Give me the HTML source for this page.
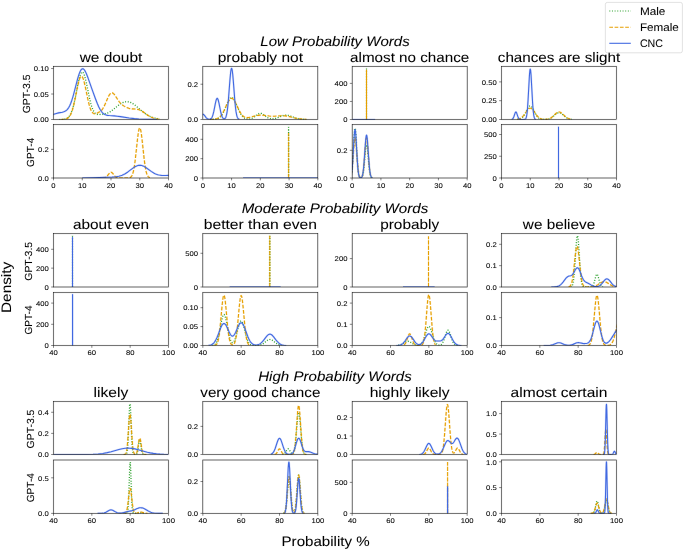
<!DOCTYPE html>
<html><head><meta charset="utf-8"><title>Probability Words</title><style>html,body{margin:0;padding:0;background:#fff;}svg{display:block;will-change:transform;}text{font-family:"Liberation Sans",sans-serif;text-rendering:geometricPrecision;stroke:#000;stroke-opacity:0.12;stroke-width:0.50px;stroke-linejoin:round;paint-order:stroke;}</style></head><body>
<svg width="685" height="550" viewBox="0 0 685 550" font-family="Liberation Sans, sans-serif">
<rect x="0" y="0" width="685" height="550" fill="#fff"/>
<defs><clipPath id="c000"><rect x="53.50" y="66.40" width="115.00" height="53.10"/></clipPath><clipPath id="c001"><rect x="53.50" y="124.60" width="115.00" height="53.40"/></clipPath><clipPath id="c010"><rect x="202.83" y="66.40" width="115.00" height="53.10"/></clipPath><clipPath id="c011"><rect x="202.83" y="124.60" width="115.00" height="53.40"/></clipPath><clipPath id="c020"><rect x="352.17" y="66.40" width="115.00" height="53.10"/></clipPath><clipPath id="c021"><rect x="352.17" y="124.60" width="115.00" height="53.40"/></clipPath><clipPath id="c030"><rect x="501.50" y="66.40" width="115.00" height="53.10"/></clipPath><clipPath id="c031"><rect x="501.50" y="124.60" width="115.00" height="53.40"/></clipPath><clipPath id="c100"><rect x="53.50" y="233.60" width="115.00" height="53.40"/></clipPath><clipPath id="c101"><rect x="53.50" y="292.50" width="115.00" height="53.00"/></clipPath><clipPath id="c110"><rect x="202.83" y="233.60" width="115.00" height="53.40"/></clipPath><clipPath id="c111"><rect x="202.83" y="292.50" width="115.00" height="53.00"/></clipPath><clipPath id="c120"><rect x="352.17" y="233.60" width="115.00" height="53.40"/></clipPath><clipPath id="c121"><rect x="352.17" y="292.50" width="115.00" height="53.00"/></clipPath><clipPath id="c130"><rect x="501.50" y="233.60" width="115.00" height="53.40"/></clipPath><clipPath id="c131"><rect x="501.50" y="292.50" width="115.00" height="53.00"/></clipPath><clipPath id="c200"><rect x="53.50" y="401.50" width="115.00" height="53.00"/></clipPath><clipPath id="c201"><rect x="53.50" y="460.00" width="115.00" height="53.40"/></clipPath><clipPath id="c210"><rect x="202.83" y="401.50" width="115.00" height="53.00"/></clipPath><clipPath id="c211"><rect x="202.83" y="460.00" width="115.00" height="53.40"/></clipPath><clipPath id="c220"><rect x="352.17" y="401.50" width="115.00" height="53.00"/></clipPath><clipPath id="c221"><rect x="352.17" y="460.00" width="115.00" height="53.40"/></clipPath><clipPath id="c230"><rect x="501.50" y="401.50" width="115.00" height="53.00"/></clipPath><clipPath id="c231"><rect x="501.50" y="460.00" width="115.00" height="53.40"/></clipPath></defs>
<g clip-path="url(#c000)" fill="none" stroke-width="1.10" stroke-linejoin="round">
<path d="M59.25,119.49 L62.10,119.43 L63.95,119.27 L65.38,118.99 L66.64,118.52 L67.81,117.78 L68.82,116.81 L69.74,115.57 L70.66,113.90 L71.50,111.95 L72.26,109.82 L73.01,107.30 L73.85,104.06 L75.28,97.62 L78.22,82.90 L78.89,79.89 L79.56,77.24 L80.23,75.06 L80.90,73.42 L81.24,72.83 L81.57,72.41 L81.91,72.14 L82.25,72.05 L82.58,72.12 L82.92,72.36 L83.25,72.77 L83.59,73.33 L84.26,74.92 L85.01,77.35 L86.36,82.95 L89.71,99.05 L90.72,103.16 L91.73,106.61 L92.74,109.33 L93.74,111.35 L94.25,112.13 L94.83,112.86 L95.42,113.41 L96.01,113.82 L96.76,114.18 L97.60,114.40 L98.61,114.49 L99.79,114.46 L102.30,114.21 L104.49,113.89 L106.08,113.53 L107.51,113.07 L109.44,112.17 L111.45,110.91 L113.46,109.38 L118.50,105.26 L120.01,104.16 L121.44,103.27 L123.03,102.48 L124.54,101.96 L126.05,101.70 L127.48,101.69 L128.91,101.92 L130.33,102.37 L131.76,103.04 L133.35,103.99 L134.70,104.95 L136.21,106.14 L141.50,110.69 L143.85,112.60 L146.28,114.34 L148.63,115.74 L151.15,116.93 L153.83,117.86 L156.69,118.54 L159.88,119.00" stroke="#2ca02c" stroke-opacity="0.18" stroke-width="2.10" stroke-dasharray="1,1.65"/>
<path d="M59.25,119.49 L62.10,119.43 L63.95,119.27 L65.38,118.99 L66.64,118.52 L67.81,117.78 L68.82,116.81 L69.74,115.57 L70.66,113.90 L71.50,111.95 L72.26,109.82 L73.01,107.30 L73.85,104.06 L75.28,97.62 L78.22,82.90 L78.89,79.89 L79.56,77.24 L80.23,75.06 L80.90,73.42 L81.24,72.83 L81.57,72.41 L81.91,72.14 L82.25,72.05 L82.58,72.12 L82.92,72.36 L83.25,72.77 L83.59,73.33 L84.26,74.92 L85.01,77.35 L86.36,82.95 L89.71,99.05 L90.72,103.16 L91.73,106.61 L92.74,109.33 L93.74,111.35 L94.25,112.13 L94.83,112.86 L95.42,113.41 L96.01,113.82 L96.76,114.18 L97.60,114.40 L98.61,114.49 L99.79,114.46 L102.30,114.21 L104.49,113.89 L106.08,113.53 L107.51,113.07 L109.44,112.17 L111.45,110.91 L113.46,109.38 L118.50,105.26 L120.01,104.16 L121.44,103.27 L123.03,102.48 L124.54,101.96 L126.05,101.70 L127.48,101.69 L128.91,101.92 L130.33,102.37 L131.76,103.04 L133.35,103.99 L134.70,104.95 L136.21,106.14 L141.50,110.69 L143.85,112.60 L146.28,114.34 L148.63,115.74 L151.15,116.93 L153.83,117.86 L156.69,118.54 L159.88,119.00" stroke="#2ca02c" stroke-dasharray="1,1.65"/>
<path d="M60.69,119.49 L63.09,119.42 L64.74,119.25 L66.06,118.96 L67.14,118.52 L68.22,117.80 L69.13,116.88 L69.95,115.73 L70.78,114.20 L71.52,112.46 L72.27,110.33 L72.93,108.10 L73.68,105.23 L75.00,99.28 L77.65,86.15 L78.89,80.96 L79.55,78.83 L80.13,77.45 L80.46,76.87 L80.79,76.47 L81.12,76.24 L81.37,76.18 L81.62,76.22 L81.95,76.43 L82.28,76.81 L82.61,77.36 L83.27,78.93 L83.93,81.08 L85.17,86.26 L88.23,100.93 L89.14,104.63 L89.97,107.46 L90.80,109.72 L91.63,111.42 L92.04,112.07 L92.54,112.69 L92.95,113.08 L93.45,113.41 L94.19,113.68 L94.94,113.73 L95.85,113.58 L96.92,113.21 L98.41,112.53 L99.65,111.83 L100.73,111.03 L101.64,110.14 L102.30,109.34 L102.88,108.51 L104.12,106.33 L105.28,103.85 L107.92,97.66 L108.59,96.29 L109.25,95.10 L109.99,94.03 L110.65,93.36 L111.32,92.96 L111.65,92.87 L112.06,92.86 L112.56,92.98 L113.14,93.31 L113.71,93.80 L114.29,94.44 L115.37,95.92 L118.43,100.66 L119.42,101.99 L120.42,103.14 L121.41,104.11 L122.48,105.00 L123.72,105.86 L125.05,106.65 L126.37,107.33 L127.61,107.87 L128.85,108.32 L130.01,108.62 L132.00,108.92 L135.31,109.07 L136.63,109.18 L137.95,109.43 L139.19,109.80 L140.60,110.40 L142.09,111.24 L143.58,112.22 L148.29,115.59 L149.87,116.55 L151.44,117.36 L153.26,118.09 L155.24,118.66 L157.39,119.05 L159.88,119.30" stroke="#e69f00" stroke-opacity="0.18" stroke-width="2.10" stroke-dasharray="3.7,1.6"/>
<path d="M60.69,119.49 L63.09,119.42 L64.74,119.25 L66.06,118.96 L67.14,118.52 L68.22,117.80 L69.13,116.88 L69.95,115.73 L70.78,114.20 L71.52,112.46 L72.27,110.33 L72.93,108.10 L73.68,105.23 L75.00,99.28 L77.65,86.15 L78.89,80.96 L79.55,78.83 L80.13,77.45 L80.46,76.87 L80.79,76.47 L81.12,76.24 L81.37,76.18 L81.62,76.22 L81.95,76.43 L82.28,76.81 L82.61,77.36 L83.27,78.93 L83.93,81.08 L85.17,86.26 L88.23,100.93 L89.14,104.63 L89.97,107.46 L90.80,109.72 L91.63,111.42 L92.04,112.07 L92.54,112.69 L92.95,113.08 L93.45,113.41 L94.19,113.68 L94.94,113.73 L95.85,113.58 L96.92,113.21 L98.41,112.53 L99.65,111.83 L100.73,111.03 L101.64,110.14 L102.30,109.34 L102.88,108.51 L104.12,106.33 L105.28,103.85 L107.92,97.66 L108.59,96.29 L109.25,95.10 L109.99,94.03 L110.65,93.36 L111.32,92.96 L111.65,92.87 L112.06,92.86 L112.56,92.98 L113.14,93.31 L113.71,93.80 L114.29,94.44 L115.37,95.92 L118.43,100.66 L119.42,101.99 L120.42,103.14 L121.41,104.11 L122.48,105.00 L123.72,105.86 L125.05,106.65 L126.37,107.33 L127.61,107.87 L128.85,108.32 L130.01,108.62 L132.00,108.92 L135.31,109.07 L136.63,109.18 L137.95,109.43 L139.19,109.80 L140.60,110.40 L142.09,111.24 L143.58,112.22 L148.29,115.59 L149.87,116.55 L151.44,117.36 L153.26,118.09 L155.24,118.66 L157.39,119.05 L159.88,119.30" stroke="#e69f00" stroke-dasharray="3.7,1.6"/>
<path d="M39.12,118.83 L42.27,118.26 L45.32,117.44 L48.07,116.48 L53.77,114.26 L56.33,113.42 L58.59,112.87 L62.42,112.18 L63.80,111.80 L64.88,111.36 L65.77,110.84 L66.65,110.14 L67.44,109.32 L68.62,107.70 L69.70,105.72 L70.78,103.23 L71.86,100.21 L72.75,97.37 L73.73,93.87 L77.66,78.67 L78.55,75.68 L79.33,73.38 L80.22,71.29 L81.01,69.94 L81.40,69.45 L81.79,69.09 L82.19,68.87 L82.68,68.77 L83.07,68.84 L83.56,69.10 L83.95,69.44 L84.45,70.01 L85.43,71.63 L86.41,73.74 L88.08,78.07 L92.51,90.64 L95.36,98.49 L97.23,103.31 L98.70,106.71 L99.98,109.22 L101.26,111.26 L102.54,112.81 L103.22,113.46 L103.91,113.98 L104.70,114.45 L105.58,114.84 L106.57,115.14 L107.65,115.35 L109.32,115.54 L114.23,115.87 L117.18,116.18 L120.43,116.63 L129.18,117.99 L134.39,118.64 L138.91,119.02 L143.73,119.27 L149.43,119.42 L157.00,119.48" stroke="#4169e1" stroke-opacity="0.18" stroke-width="2.10"/>
<path d="M39.12,118.83 L42.27,118.26 L45.32,117.44 L48.07,116.48 L53.77,114.26 L56.33,113.42 L58.59,112.87 L62.42,112.18 L63.80,111.80 L64.88,111.36 L65.77,110.84 L66.65,110.14 L67.44,109.32 L68.62,107.70 L69.70,105.72 L70.78,103.23 L71.86,100.21 L72.75,97.37 L73.73,93.87 L77.66,78.67 L78.55,75.68 L79.33,73.38 L80.22,71.29 L81.01,69.94 L81.40,69.45 L81.79,69.09 L82.19,68.87 L82.68,68.77 L83.07,68.84 L83.56,69.10 L83.95,69.44 L84.45,70.01 L85.43,71.63 L86.41,73.74 L88.08,78.07 L92.51,90.64 L95.36,98.49 L97.23,103.31 L98.70,106.71 L99.98,109.22 L101.26,111.26 L102.54,112.81 L103.22,113.46 L103.91,113.98 L104.70,114.45 L105.58,114.84 L106.57,115.14 L107.65,115.35 L109.32,115.54 L114.23,115.87 L117.18,116.18 L120.43,116.63 L129.18,117.99 L134.39,118.64 L138.91,119.02 L143.73,119.27 L149.43,119.42 L157.00,119.48" stroke="#4169e1"/>
</g>
<rect x="53.50" y="66.40" width="115.00" height="53.10" fill="none" stroke="#000" stroke-opacity="0.12" stroke-width="1.48"/>
<rect x="53.50" y="66.40" width="115.00" height="53.10" fill="none" stroke="#000" stroke-width="0.48"/>
<line x1="51.15" y1="119.50" x2="53.50" y2="119.50" stroke="#000" stroke-width="0.48"/>
<text x="48.80" y="122.20" font-size="6.85" text-anchor="end" textLength="14.96" lengthAdjust="spacingAndGlyphs" fill="#000">0.00</text>
<line x1="51.15" y1="94.02" x2="53.50" y2="94.02" stroke="#000" stroke-width="0.48"/>
<text x="48.80" y="96.72" font-size="6.85" text-anchor="end" textLength="14.96" lengthAdjust="spacingAndGlyphs" fill="#000">0.05</text>
<line x1="51.15" y1="68.54" x2="53.50" y2="68.54" stroke="#000" stroke-width="0.48"/>
<text x="48.80" y="71.24" font-size="6.85" text-anchor="end" textLength="14.96" lengthAdjust="spacingAndGlyphs" fill="#000">0.10</text>
<text x="111.00" y="61.50" font-size="13.71" text-anchor="middle" textLength="62.61" lengthAdjust="spacingAndGlyphs" fill="#000">we doubt</text>
<text x="29.80" y="93.95" font-size="10.28" text-anchor="middle" textLength="38.79" lengthAdjust="spacingAndGlyphs" fill="#000" transform="rotate(-90 29.80 93.95)">GPT-3.5</text>
<g clip-path="url(#c001)" fill="none" stroke-width="1.10" stroke-linejoin="round">
<path d="M102.38,177.98 L103.60,177.90 L104.51,177.75 L105.30,177.49 L106.01,177.10 L106.65,176.61 L107.28,175.96 L109.10,173.63 L109.70,172.95 L110.33,172.46 L110.95,172.27 L111.28,172.31 L111.59,172.42 L112.30,172.95 L112.92,173.66 L114.59,175.81 L115.59,176.81 L116.58,177.44 L117.71,177.80 L118.83,177.94 L120.50,177.99 L126.55,177.99 L128.53,177.91 L129.48,177.74 L130.23,177.46 L130.86,177.04 L131.45,176.39 L131.85,175.79 L132.21,175.09 L132.88,173.27 L133.51,170.84 L134.15,167.58 L134.74,163.72 L135.37,158.78 L137.39,140.08 L138.14,133.98 L138.58,131.23 L138.97,129.39 L139.37,128.26 L139.57,127.98 L139.76,127.89 L139.92,127.97 L140.12,128.23 L140.51,129.34 L140.91,131.16 L141.35,133.88 L142.10,139.96 L144.27,159.99 L145.03,165.53 L145.78,169.85 L146.17,171.63 L146.61,173.23 L147.04,174.49 L147.48,175.47 L147.95,176.27 L148.51,176.92 L149.10,177.37 L149.81,177.68" stroke="#e69f00" stroke-opacity="0.18" stroke-width="2.10" stroke-dasharray="3.7,1.6"/>
<path d="M102.38,177.98 L103.60,177.90 L104.51,177.75 L105.30,177.49 L106.01,177.10 L106.65,176.61 L107.28,175.96 L109.10,173.63 L109.70,172.95 L110.33,172.46 L110.95,172.27 L111.28,172.31 L111.59,172.42 L112.30,172.95 L112.92,173.66 L114.59,175.81 L115.59,176.81 L116.58,177.44 L117.71,177.80 L118.83,177.94 L120.50,177.99 L126.55,177.99 L128.53,177.91 L129.48,177.74 L130.23,177.46 L130.86,177.04 L131.45,176.39 L131.85,175.79 L132.21,175.09 L132.88,173.27 L133.51,170.84 L134.15,167.58 L134.74,163.72 L135.37,158.78 L137.39,140.08 L138.14,133.98 L138.58,131.23 L138.97,129.39 L139.37,128.26 L139.57,127.98 L139.76,127.89 L139.92,127.97 L140.12,128.23 L140.51,129.34 L140.91,131.16 L141.35,133.88 L142.10,139.96 L144.27,159.99 L145.03,165.53 L145.78,169.85 L146.17,171.63 L146.61,173.23 L147.04,174.49 L147.48,175.47 L147.95,176.27 L148.51,176.92 L149.10,177.37 L149.81,177.68" stroke="#e69f00" stroke-dasharray="3.7,1.6"/>
<path d="M82.25,177.96 L92.61,177.76 L112.08,176.97 L115.92,176.68 L118.89,176.20 L120.52,175.77 L122.15,175.21 L123.68,174.53 L125.22,173.70 L127.90,171.93 L133.28,167.87 L134.52,167.05 L135.58,166.44 L136.73,165.91 L137.78,165.56 L138.84,165.35 L139.80,165.29 L140.76,165.35 L141.81,165.55 L142.87,165.90 L143.92,166.37 L144.98,166.95 L146.13,167.69 L151.21,171.37 L153.71,172.96 L155.05,173.66 L156.39,174.24 L157.73,174.71 L159.17,175.07 L161.28,175.39 L163.68,175.53 L165.89,175.51 L173.08,175.26 L175.67,175.29 L178.16,175.40 L182.19,175.75 L191.97,176.94 L197.25,177.44" stroke="#4169e1" stroke-opacity="0.18" stroke-width="2.10"/>
<path d="M82.25,177.96 L92.61,177.76 L112.08,176.97 L115.92,176.68 L118.89,176.20 L120.52,175.77 L122.15,175.21 L123.68,174.53 L125.22,173.70 L127.90,171.93 L133.28,167.87 L134.52,167.05 L135.58,166.44 L136.73,165.91 L137.78,165.56 L138.84,165.35 L139.80,165.29 L140.76,165.35 L141.81,165.55 L142.87,165.90 L143.92,166.37 L144.98,166.95 L146.13,167.69 L151.21,171.37 L153.71,172.96 L155.05,173.66 L156.39,174.24 L157.73,174.71 L159.17,175.07 L161.28,175.39 L163.68,175.53 L165.89,175.51 L173.08,175.26 L175.67,175.29 L178.16,175.40 L182.19,175.75 L191.97,176.94 L197.25,177.44" stroke="#4169e1"/>
</g>
<rect x="53.50" y="124.60" width="115.00" height="53.40" fill="none" stroke="#000" stroke-opacity="0.12" stroke-width="1.48"/>
<rect x="53.50" y="124.60" width="115.00" height="53.40" fill="none" stroke="#000" stroke-width="0.48"/>
<line x1="51.15" y1="178.00" x2="53.50" y2="178.00" stroke="#000" stroke-width="0.48"/>
<text x="48.80" y="180.70" font-size="6.85" text-anchor="end" textLength="10.69" lengthAdjust="spacingAndGlyphs" fill="#000">0.0</text>
<line x1="51.15" y1="149.37" x2="53.50" y2="149.37" stroke="#000" stroke-width="0.48"/>
<text x="48.80" y="152.07" font-size="6.85" text-anchor="end" textLength="10.69" lengthAdjust="spacingAndGlyphs" fill="#000">0.2</text>
<line x1="53.50" y1="178.00" x2="53.50" y2="180.35" stroke="#000" stroke-width="0.48"/>
<text x="53.50" y="187.70" font-size="6.85" text-anchor="middle" textLength="4.28" lengthAdjust="spacingAndGlyphs" fill="#000">0</text>
<line x1="82.25" y1="178.00" x2="82.25" y2="180.35" stroke="#000" stroke-width="0.48"/>
<text x="82.25" y="187.70" font-size="6.85" text-anchor="middle" textLength="8.55" lengthAdjust="spacingAndGlyphs" fill="#000">10</text>
<line x1="111.00" y1="178.00" x2="111.00" y2="180.35" stroke="#000" stroke-width="0.48"/>
<text x="111.00" y="187.70" font-size="6.85" text-anchor="middle" textLength="8.55" lengthAdjust="spacingAndGlyphs" fill="#000">20</text>
<line x1="139.75" y1="178.00" x2="139.75" y2="180.35" stroke="#000" stroke-width="0.48"/>
<text x="139.75" y="187.70" font-size="6.85" text-anchor="middle" textLength="8.55" lengthAdjust="spacingAndGlyphs" fill="#000">30</text>
<line x1="168.50" y1="178.00" x2="168.50" y2="180.35" stroke="#000" stroke-width="0.48"/>
<text x="168.50" y="187.70" font-size="6.85" text-anchor="middle" textLength="8.55" lengthAdjust="spacingAndGlyphs" fill="#000">40</text>
<text x="34.00" y="152.30" font-size="10.28" text-anchor="middle" textLength="29.18" lengthAdjust="spacingAndGlyphs" fill="#000" transform="rotate(-90 34.00 152.30)">GPT-4</text>
<g clip-path="url(#c010)" fill="none" stroke-width="1.10" stroke-linejoin="round">
<path d="M210.02,119.49 L214.11,119.37 L215.48,119.21 L216.68,118.96 L217.73,118.61 L218.69,118.14 L219.58,117.53 L220.46,116.72 L221.26,115.79 L221.99,114.78 L222.71,113.60 L223.43,112.25 L224.80,109.30 L227.61,102.57 L228.89,99.96 L229.62,98.83 L230.26,98.08 L230.90,97.62 L231.55,97.45 L232.19,97.58 L232.91,98.09 L233.63,98.95 L234.36,100.12 L235.64,102.77 L238.13,108.76 L239.18,111.11 L240.22,113.19 L241.26,114.92 L242.39,116.38 L243.51,117.46 L244.72,118.26 L246.00,118.78 L247.29,119.04 L248.65,119.09 L250.02,118.93 L251.39,118.54 L252.51,118.03 L253.64,117.35 L257.01,114.74 L258.13,113.99 L259.26,113.49 L259.82,113.36 L260.38,113.32 L260.95,113.38 L261.51,113.52 L262.71,114.10 L263.76,114.81 L266.49,116.95 L268.01,117.90 L269.46,118.51 L270.91,118.82 L271.87,118.90 L272.91,118.87 L274.04,118.73 L275.16,118.51 L277.49,117.79 L281.51,116.15 L283.12,115.59 L284.80,115.20 L286.41,115.09 L287.85,115.24 L289.46,115.64 L290.91,116.15 L295.24,117.91 L296.77,118.41 L298.22,118.77 L299.90,119.08 L301.67,119.28 L303.76,119.41 L306.33,119.47" stroke="#2ca02c" stroke-opacity="0.18" stroke-width="2.10" stroke-dasharray="1,1.65"/>
<path d="M210.02,119.49 L214.11,119.37 L215.48,119.21 L216.68,118.96 L217.73,118.61 L218.69,118.14 L219.58,117.53 L220.46,116.72 L221.26,115.79 L221.99,114.78 L222.71,113.60 L223.43,112.25 L224.80,109.30 L227.61,102.57 L228.89,99.96 L229.62,98.83 L230.26,98.08 L230.90,97.62 L231.55,97.45 L232.19,97.58 L232.91,98.09 L233.63,98.95 L234.36,100.12 L235.64,102.77 L238.13,108.76 L239.18,111.11 L240.22,113.19 L241.26,114.92 L242.39,116.38 L243.51,117.46 L244.72,118.26 L246.00,118.78 L247.29,119.04 L248.65,119.09 L250.02,118.93 L251.39,118.54 L252.51,118.03 L253.64,117.35 L257.01,114.74 L258.13,113.99 L259.26,113.49 L259.82,113.36 L260.38,113.32 L260.95,113.38 L261.51,113.52 L262.71,114.10 L263.76,114.81 L266.49,116.95 L268.01,117.90 L269.46,118.51 L270.91,118.82 L271.87,118.90 L272.91,118.87 L274.04,118.73 L275.16,118.51 L277.49,117.79 L281.51,116.15 L283.12,115.59 L284.80,115.20 L286.41,115.09 L287.85,115.24 L289.46,115.64 L290.91,116.15 L295.24,117.91 L296.77,118.41 L298.22,118.77 L299.90,119.08 L301.67,119.28 L303.76,119.41 L306.33,119.47" stroke="#2ca02c" stroke-dasharray="1,1.65"/>
<path d="M210.02,119.48 L213.71,119.33 L215.08,119.16 L216.20,118.91 L217.25,118.55 L218.21,118.08 L219.09,117.50 L219.98,116.74 L220.78,115.87 L221.50,114.94 L222.23,113.86 L223.03,112.49 L224.48,109.63 L227.45,103.14 L228.81,100.64 L229.54,99.62 L230.26,98.87 L230.98,98.43 L231.63,98.31 L232.27,98.46 L232.99,98.93 L233.71,99.70 L234.52,100.87 L235.88,103.42 L239.34,110.76 L240.38,112.65 L241.35,114.12 L242.31,115.31 L243.35,116.29 L244.40,116.97 L245.52,117.41 L246.25,117.56 L247.05,117.64 L247.93,117.62 L248.90,117.51 L250.74,117.13 L254.68,116.06 L256.45,115.64 L258.29,115.33 L260.06,115.17 L261.59,115.16 L263.19,115.25 L269.30,116.05 L272.19,116.25 L275.00,116.18 L280.79,115.70 L283.20,115.67 L285.36,115.83 L287.61,116.20 L289.62,116.65 L295.16,118.05 L298.54,118.72 L302.15,119.16 L306.33,119.39" stroke="#e69f00" stroke-opacity="0.18" stroke-width="2.10" stroke-dasharray="3.7,1.6"/>
<path d="M210.02,119.48 L213.71,119.33 L215.08,119.16 L216.20,118.91 L217.25,118.55 L218.21,118.08 L219.09,117.50 L219.98,116.74 L220.78,115.87 L221.50,114.94 L222.23,113.86 L223.03,112.49 L224.48,109.63 L227.45,103.14 L228.81,100.64 L229.54,99.62 L230.26,98.87 L230.98,98.43 L231.63,98.31 L232.27,98.46 L232.99,98.93 L233.71,99.70 L234.52,100.87 L235.88,103.42 L239.34,110.76 L240.38,112.65 L241.35,114.12 L242.31,115.31 L243.35,116.29 L244.40,116.97 L245.52,117.41 L246.25,117.56 L247.05,117.64 L247.93,117.62 L248.90,117.51 L250.74,117.13 L254.68,116.06 L256.45,115.64 L258.29,115.33 L260.06,115.17 L261.59,115.16 L263.19,115.25 L269.30,116.05 L272.19,116.25 L275.00,116.18 L280.79,115.70 L283.20,115.67 L285.36,115.83 L287.61,116.20 L289.62,116.65 L295.16,118.05 L298.54,118.72 L302.15,119.16 L306.33,119.39" stroke="#e69f00" stroke-dasharray="3.7,1.6"/>
<path d="M194.21,119.50 L195.71,119.46 L196.68,119.35 L197.48,119.15 L198.20,118.81 L198.81,118.35 L199.44,117.72 L201.17,115.42 L201.70,114.81 L202.26,114.37 L202.78,114.21 L203.34,114.34 L203.92,114.77 L204.48,115.41 L206.30,117.80 L206.97,118.45 L207.63,118.89 L208.55,119.22 L209.49,119.27 L210.36,119.06 L211.07,118.58 L211.57,118.02 L212.05,117.21 L212.50,116.18 L212.95,114.84 L213.86,111.22 L215.39,103.45 L215.96,100.89 L216.30,99.72 L216.60,98.96 L216.91,98.49 L217.21,98.33 L217.51,98.49 L217.81,98.97 L218.11,99.73 L218.41,100.76 L218.98,103.22 L220.78,112.25 L221.42,114.72 L222.03,116.47 L222.40,117.28 L222.78,117.89 L223.19,118.38 L223.64,118.71 L224.10,118.85 L224.52,118.80 L224.92,118.58 L225.31,118.17 L225.62,117.67 L225.90,117.03 L226.47,115.16 L226.96,112.71 L227.45,109.32 L227.90,105.29 L228.39,99.98 L229.87,80.70 L230.42,74.45 L230.72,71.78 L231.02,69.82 L231.32,68.66 L231.44,68.43 L231.59,68.34 L231.72,68.43 L231.85,68.69 L232.15,69.90 L232.72,74.22 L233.28,80.59 L234.90,101.45 L235.46,107.21 L236.03,111.63 L236.67,115.08 L237.01,116.34 L237.38,117.38 L237.76,118.12 L238.21,118.70 L238.74,119.10 L239.34,119.33" stroke="#4169e1" stroke-opacity="0.18" stroke-width="2.10"/>
<path d="M194.21,119.50 L195.71,119.46 L196.68,119.35 L197.48,119.15 L198.20,118.81 L198.81,118.35 L199.44,117.72 L201.17,115.42 L201.70,114.81 L202.26,114.37 L202.78,114.21 L203.34,114.34 L203.92,114.77 L204.48,115.41 L206.30,117.80 L206.97,118.45 L207.63,118.89 L208.55,119.22 L209.49,119.27 L210.36,119.06 L211.07,118.58 L211.57,118.02 L212.05,117.21 L212.50,116.18 L212.95,114.84 L213.86,111.22 L215.39,103.45 L215.96,100.89 L216.30,99.72 L216.60,98.96 L216.91,98.49 L217.21,98.33 L217.51,98.49 L217.81,98.97 L218.11,99.73 L218.41,100.76 L218.98,103.22 L220.78,112.25 L221.42,114.72 L222.03,116.47 L222.40,117.28 L222.78,117.89 L223.19,118.38 L223.64,118.71 L224.10,118.85 L224.52,118.80 L224.92,118.58 L225.31,118.17 L225.62,117.67 L225.90,117.03 L226.47,115.16 L226.96,112.71 L227.45,109.32 L227.90,105.29 L228.39,99.98 L229.87,80.70 L230.42,74.45 L230.72,71.78 L231.02,69.82 L231.32,68.66 L231.44,68.43 L231.59,68.34 L231.72,68.43 L231.85,68.69 L232.15,69.90 L232.72,74.22 L233.28,80.59 L234.90,101.45 L235.46,107.21 L236.03,111.63 L236.67,115.08 L237.01,116.34 L237.38,117.38 L237.76,118.12 L238.21,118.70 L238.74,119.10 L239.34,119.33" stroke="#4169e1"/>
</g>
<rect x="202.83" y="66.40" width="115.00" height="53.10" fill="none" stroke="#000" stroke-opacity="0.12" stroke-width="1.48"/>
<rect x="202.83" y="66.40" width="115.00" height="53.10" fill="none" stroke="#000" stroke-width="0.48"/>
<line x1="200.48" y1="119.50" x2="202.83" y2="119.50" stroke="#000" stroke-width="0.48"/>
<text x="198.13" y="122.20" font-size="6.85" text-anchor="end" textLength="10.69" lengthAdjust="spacingAndGlyphs" fill="#000">0.0</text>
<line x1="200.48" y1="84.22" x2="202.83" y2="84.22" stroke="#000" stroke-width="0.48"/>
<text x="198.13" y="86.92" font-size="6.85" text-anchor="end" textLength="10.69" lengthAdjust="spacingAndGlyphs" fill="#000">0.2</text>
<text x="260.33" y="61.50" font-size="13.71" text-anchor="middle" textLength="85.25" lengthAdjust="spacingAndGlyphs" fill="#000">probably not</text>
<g clip-path="url(#c011)" fill="none" stroke-width="1.10" stroke-linejoin="round">
<path d="M288.60,178.00 L288.60,127.30 L288.62,178.00" stroke="#2ca02c" stroke-opacity="0.18" stroke-width="2.00" stroke-dasharray="1,1.65"/>
<path d="M288.60,178.00 L288.60,127.30 L288.62,178.00" stroke="#2ca02c" stroke-dasharray="1,1.65" stroke-width="1.00"/>
<path d="M288.60,178.00 L288.60,133.00" stroke="#e69f00" stroke-opacity="0.18" stroke-width="2.00" stroke-dasharray="4.3,1.0"/>
<path d="M288.60,178.00 L288.60,133.00" stroke="#e69f00" stroke-dasharray="4.3,1.0" stroke-width="1.00"/>
<path d="M243.08,178.00 L346.58,178.00" stroke="#4169e1" stroke-opacity="0.18" stroke-width="2.10"/>
<path d="M243.08,178.00 L346.58,178.00" stroke="#4169e1"/>
</g>
<rect x="202.83" y="124.60" width="115.00" height="53.40" fill="none" stroke="#000" stroke-opacity="0.12" stroke-width="1.48"/>
<rect x="202.83" y="124.60" width="115.00" height="53.40" fill="none" stroke="#000" stroke-width="0.48"/>
<line x1="200.48" y1="178.00" x2="202.83" y2="178.00" stroke="#000" stroke-width="0.48"/>
<text x="198.13" y="180.70" font-size="6.85" text-anchor="end" textLength="4.28" lengthAdjust="spacingAndGlyphs" fill="#000">0</text>
<line x1="200.48" y1="158.65" x2="202.83" y2="158.65" stroke="#000" stroke-width="0.48"/>
<text x="198.13" y="161.35" font-size="6.85" text-anchor="end" textLength="12.83" lengthAdjust="spacingAndGlyphs" fill="#000">200</text>
<line x1="200.48" y1="139.30" x2="202.83" y2="139.30" stroke="#000" stroke-width="0.48"/>
<text x="198.13" y="142.00" font-size="6.85" text-anchor="end" textLength="12.83" lengthAdjust="spacingAndGlyphs" fill="#000">400</text>
<line x1="202.83" y1="178.00" x2="202.83" y2="180.35" stroke="#000" stroke-width="0.48"/>
<text x="202.83" y="187.70" font-size="6.85" text-anchor="middle" textLength="4.28" lengthAdjust="spacingAndGlyphs" fill="#000">0</text>
<line x1="231.58" y1="178.00" x2="231.58" y2="180.35" stroke="#000" stroke-width="0.48"/>
<text x="231.58" y="187.70" font-size="6.85" text-anchor="middle" textLength="8.55" lengthAdjust="spacingAndGlyphs" fill="#000">10</text>
<line x1="260.33" y1="178.00" x2="260.33" y2="180.35" stroke="#000" stroke-width="0.48"/>
<text x="260.33" y="187.70" font-size="6.85" text-anchor="middle" textLength="8.55" lengthAdjust="spacingAndGlyphs" fill="#000">20</text>
<line x1="289.08" y1="178.00" x2="289.08" y2="180.35" stroke="#000" stroke-width="0.48"/>
<text x="289.08" y="187.70" font-size="6.85" text-anchor="middle" textLength="8.55" lengthAdjust="spacingAndGlyphs" fill="#000">30</text>
<line x1="317.83" y1="178.00" x2="317.83" y2="180.35" stroke="#000" stroke-width="0.48"/>
<text x="317.83" y="187.70" font-size="6.85" text-anchor="middle" textLength="8.55" lengthAdjust="spacingAndGlyphs" fill="#000">40</text>
<g clip-path="url(#c020)" fill="none" stroke-width="1.10" stroke-linejoin="round">
<path d="M366.50,119.50 L366.50,68.80 L366.52,119.50" stroke="#2ca02c" stroke-opacity="0.18" stroke-width="2.00" stroke-dasharray="1,1.65"/>
<path d="M366.50,119.50 L366.50,68.80 L366.52,119.50" stroke="#2ca02c" stroke-dasharray="1,1.65" stroke-width="1.00"/>
<path d="M366.50,119.50 L366.50,69.80" stroke="#e69f00" stroke-opacity="0.18" stroke-width="2.00"/>
<path d="M366.50,119.50 L366.50,69.80" stroke="#e69f00" stroke-width="1.00"/>
<path d="M346.42,119.50 L375.17,119.50" stroke="#4169e1" stroke-opacity="0.18" stroke-width="2.10"/>
<path d="M346.42,119.50 L375.17,119.50" stroke="#4169e1"/>
</g>
<rect x="352.17" y="66.40" width="115.00" height="53.10" fill="none" stroke="#000" stroke-opacity="0.12" stroke-width="1.48"/>
<rect x="352.17" y="66.40" width="115.00" height="53.10" fill="none" stroke="#000" stroke-width="0.48"/>
<line x1="349.82" y1="119.50" x2="352.17" y2="119.50" stroke="#000" stroke-width="0.48"/>
<text x="347.47" y="122.20" font-size="6.85" text-anchor="end" textLength="4.28" lengthAdjust="spacingAndGlyphs" fill="#000">0</text>
<line x1="349.82" y1="101.44" x2="352.17" y2="101.44" stroke="#000" stroke-width="0.48"/>
<text x="347.47" y="104.14" font-size="6.85" text-anchor="end" textLength="12.83" lengthAdjust="spacingAndGlyphs" fill="#000">200</text>
<line x1="349.82" y1="83.38" x2="352.17" y2="83.38" stroke="#000" stroke-width="0.48"/>
<text x="347.47" y="86.08" font-size="6.85" text-anchor="end" textLength="12.83" lengthAdjust="spacingAndGlyphs" fill="#000">400</text>
<text x="409.67" y="61.50" font-size="13.71" text-anchor="middle" textLength="119.16" lengthAdjust="spacingAndGlyphs" fill="#000">almost no chance</text>
<g clip-path="url(#c021)" fill="none" stroke-width="1.10" stroke-linejoin="round">
<path d="M347.86,178.00 L348.96,177.97 L349.59,177.87 L350.06,177.65 L350.45,177.27 L350.81,176.61 L351.12,175.72 L351.40,174.48 L351.67,172.90 L352.15,168.64 L352.63,162.52 L353.91,139.45 L354.30,133.41 L354.69,129.42 L354.87,128.45 L354.97,128.20 L355.05,128.15 L355.24,128.51 L355.44,129.67 L355.85,134.16 L357.23,158.86 L357.82,167.36 L358.13,170.55 L358.44,173.00 L358.76,174.86 L359.13,176.22 L359.52,177.08 L359.98,177.60 L360.27,177.74 L360.58,177.81 L360.90,177.79 L361.23,177.69 L361.73,177.32 L362.14,176.71 L362.53,175.78 L362.88,174.53 L363.41,171.64 L363.92,167.58 L365.32,152.12 L365.73,148.26 L366.16,145.58 L366.36,144.95 L366.55,144.76 L366.75,145.00 L366.96,145.69 L367.40,148.63 L369.03,166.26 L369.46,170.04 L369.87,172.81 L370.34,175.04 L370.87,176.56 L371.16,177.07 L371.48,177.44 L371.85,177.71 L372.30,177.87" stroke="#2ca02c" stroke-opacity="0.18" stroke-width="2.10" stroke-dasharray="1,1.65"/>
<path d="M347.86,178.00 L348.96,177.97 L349.59,177.87 L350.06,177.65 L350.45,177.27 L350.81,176.61 L351.12,175.72 L351.40,174.48 L351.67,172.90 L352.15,168.64 L352.63,162.52 L353.91,139.45 L354.30,133.41 L354.69,129.42 L354.87,128.45 L354.97,128.20 L355.05,128.15 L355.24,128.51 L355.44,129.67 L355.85,134.16 L357.23,158.86 L357.82,167.36 L358.13,170.55 L358.44,173.00 L358.76,174.86 L359.13,176.22 L359.52,177.08 L359.98,177.60 L360.27,177.74 L360.58,177.81 L360.90,177.79 L361.23,177.69 L361.73,177.32 L362.14,176.71 L362.53,175.78 L362.88,174.53 L363.41,171.64 L363.92,167.58 L365.32,152.12 L365.73,148.26 L366.16,145.58 L366.36,144.95 L366.55,144.76 L366.75,145.00 L366.96,145.69 L367.40,148.63 L369.03,166.26 L369.46,170.04 L369.87,172.81 L370.34,175.04 L370.87,176.56 L371.16,177.07 L371.48,177.44 L371.85,177.71 L372.30,177.87" stroke="#2ca02c" stroke-dasharray="1,1.65"/>
<path d="M347.86,177.99 L348.77,177.95 L349.37,177.82 L349.83,177.58 L350.22,177.19 L350.57,176.61 L350.89,175.78 L351.20,174.67 L351.47,173.34 L351.96,169.89 L352.44,165.11 L353.81,146.93 L354.22,142.21 L354.64,138.91 L354.85,138.10 L354.95,137.90 L355.05,137.84 L355.26,138.14 L355.48,139.10 L355.93,142.78 L357.42,162.39 L358.06,169.30 L358.37,171.76 L358.70,173.75 L359.05,175.27 L359.43,176.41 L359.86,177.16 L360.35,177.58 L360.63,177.67 L360.92,177.68 L361.21,177.60 L361.46,177.44 L361.88,176.95 L362.27,176.14 L362.61,175.01 L362.92,173.59 L363.43,170.14 L363.94,165.18 L365.30,146.99 L365.73,142.06 L366.16,138.83 L366.36,138.06 L366.55,137.84 L366.65,137.91 L366.75,138.13 L366.96,138.96 L367.40,142.52 L369.03,163.82 L369.46,168.39 L369.87,171.73 L370.34,174.42 L370.87,176.26 L371.16,176.87 L371.48,177.33 L371.85,177.65 L372.30,177.84" stroke="#e69f00" stroke-opacity="0.18" stroke-width="2.10" stroke-dasharray="3.7,1.6"/>
<path d="M347.86,177.99 L348.77,177.95 L349.37,177.82 L349.83,177.58 L350.22,177.19 L350.57,176.61 L350.89,175.78 L351.20,174.67 L351.47,173.34 L351.96,169.89 L352.44,165.11 L353.81,146.93 L354.22,142.21 L354.64,138.91 L354.85,138.10 L354.95,137.90 L355.05,137.84 L355.26,138.14 L355.48,139.10 L355.93,142.78 L357.42,162.39 L358.06,169.30 L358.37,171.76 L358.70,173.75 L359.05,175.27 L359.43,176.41 L359.86,177.16 L360.35,177.58 L360.63,177.67 L360.92,177.68 L361.21,177.60 L361.46,177.44 L361.88,176.95 L362.27,176.14 L362.61,175.01 L362.92,173.59 L363.43,170.14 L363.94,165.18 L365.30,146.99 L365.73,142.06 L366.16,138.83 L366.36,138.06 L366.55,137.84 L366.65,137.91 L366.75,138.13 L366.96,138.96 L367.40,142.52 L369.03,163.82 L369.46,168.39 L369.87,171.73 L370.34,174.42 L370.87,176.26 L371.16,176.87 L371.48,177.33 L371.85,177.65 L372.30,177.84" stroke="#e69f00" stroke-dasharray="3.7,1.6"/>
<path d="M347.86,178.00 L348.96,177.97 L349.59,177.87 L350.06,177.66 L350.45,177.29 L350.81,176.65 L351.12,175.78 L351.40,174.58 L351.67,173.04 L352.15,168.90 L352.63,162.95 L353.91,140.52 L354.30,134.65 L354.69,130.77 L354.87,129.83 L354.97,129.58 L355.05,129.53 L355.24,129.88 L355.44,131.01 L355.85,135.38 L357.23,159.39 L357.82,167.65 L358.13,170.76 L358.44,173.13 L358.76,174.95 L359.13,176.27 L359.54,177.13 L359.78,177.43 L360.05,177.64 L360.35,177.76 L360.69,177.78 L361.02,177.71 L361.33,177.54 L361.79,177.03 L362.19,176.24 L362.55,175.05 L362.88,173.51 L363.41,169.78 L363.92,164.53 L365.32,144.58 L365.73,139.58 L366.16,136.12 L366.36,135.31 L366.55,135.07 L366.65,135.15 L366.75,135.38 L366.96,136.27 L367.40,140.07 L369.03,162.84 L369.46,167.72 L369.87,171.30 L370.34,174.17 L370.87,176.14 L371.16,176.80 L371.48,177.28 L371.85,177.62 L372.30,177.83" stroke="#4169e1" stroke-opacity="0.18" stroke-width="2.10"/>
<path d="M347.86,178.00 L348.96,177.97 L349.59,177.87 L350.06,177.66 L350.45,177.29 L350.81,176.65 L351.12,175.78 L351.40,174.58 L351.67,173.04 L352.15,168.90 L352.63,162.95 L353.91,140.52 L354.30,134.65 L354.69,130.77 L354.87,129.83 L354.97,129.58 L355.05,129.53 L355.24,129.88 L355.44,131.01 L355.85,135.38 L357.23,159.39 L357.82,167.65 L358.13,170.76 L358.44,173.13 L358.76,174.95 L359.13,176.27 L359.54,177.13 L359.78,177.43 L360.05,177.64 L360.35,177.76 L360.69,177.78 L361.02,177.71 L361.33,177.54 L361.79,177.03 L362.19,176.24 L362.55,175.05 L362.88,173.51 L363.41,169.78 L363.92,164.53 L365.32,144.58 L365.73,139.58 L366.16,136.12 L366.36,135.31 L366.55,135.07 L366.65,135.15 L366.75,135.38 L366.96,136.27 L367.40,140.07 L369.03,162.84 L369.46,167.72 L369.87,171.30 L370.34,174.17 L370.87,176.14 L371.16,176.80 L371.48,177.28 L371.85,177.62 L372.30,177.83" stroke="#4169e1"/>
</g>
<rect x="352.17" y="124.60" width="115.00" height="53.40" fill="none" stroke="#000" stroke-opacity="0.12" stroke-width="1.48"/>
<rect x="352.17" y="124.60" width="115.00" height="53.40" fill="none" stroke="#000" stroke-width="0.48"/>
<line x1="349.82" y1="178.00" x2="352.17" y2="178.00" stroke="#000" stroke-width="0.48"/>
<text x="347.47" y="180.70" font-size="6.85" text-anchor="end" textLength="10.69" lengthAdjust="spacingAndGlyphs" fill="#000">0.0</text>
<line x1="349.82" y1="150.30" x2="352.17" y2="150.30" stroke="#000" stroke-width="0.48"/>
<text x="347.47" y="153.00" font-size="6.85" text-anchor="end" textLength="10.69" lengthAdjust="spacingAndGlyphs" fill="#000">0.2</text>
<line x1="352.17" y1="178.00" x2="352.17" y2="180.35" stroke="#000" stroke-width="0.48"/>
<text x="352.17" y="187.70" font-size="6.85" text-anchor="middle" textLength="4.28" lengthAdjust="spacingAndGlyphs" fill="#000">0</text>
<line x1="380.92" y1="178.00" x2="380.92" y2="180.35" stroke="#000" stroke-width="0.48"/>
<text x="380.92" y="187.70" font-size="6.85" text-anchor="middle" textLength="8.55" lengthAdjust="spacingAndGlyphs" fill="#000">10</text>
<line x1="409.67" y1="178.00" x2="409.67" y2="180.35" stroke="#000" stroke-width="0.48"/>
<text x="409.67" y="187.70" font-size="6.85" text-anchor="middle" textLength="8.55" lengthAdjust="spacingAndGlyphs" fill="#000">20</text>
<line x1="438.42" y1="178.00" x2="438.42" y2="180.35" stroke="#000" stroke-width="0.48"/>
<text x="438.42" y="187.70" font-size="6.85" text-anchor="middle" textLength="8.55" lengthAdjust="spacingAndGlyphs" fill="#000">30</text>
<line x1="467.17" y1="178.00" x2="467.17" y2="180.35" stroke="#000" stroke-width="0.48"/>
<text x="467.17" y="187.70" font-size="6.85" text-anchor="middle" textLength="8.55" lengthAdjust="spacingAndGlyphs" fill="#000">40</text>
<g clip-path="url(#c030)" fill="none" stroke-width="1.10" stroke-linejoin="round">
<path d="M517.31,119.42 L519.00,119.23 L520.32,118.85 L521.50,118.22 L522.55,117.33 L523.51,116.17 L524.47,114.68 L525.33,113.08 L527.29,109.17 L528.25,107.54 L528.79,106.82 L529.29,106.34 L529.80,106.05 L530.25,105.96 L530.75,106.07 L531.25,106.38 L531.75,106.88 L532.30,107.61 L533.26,109.26 L535.81,114.28 L536.58,115.57 L537.31,116.60 L538.04,117.42 L538.82,118.09 L539.64,118.61 L540.55,118.98 L541.41,119.21 L542.37,119.34 L544.92,119.42 L547.38,119.22 L548.38,119.03 L549.34,118.75 L550.71,118.17 L552.03,117.35 L553.21,116.43 L555.72,114.25 L556.81,113.45 L557.95,112.90 L558.50,112.77 L559.04,112.73 L559.59,112.79 L560.14,112.93 L561.32,113.54 L562.42,114.36 L565.42,116.95 L566.38,117.63 L567.34,118.19 L568.34,118.64 L569.43,118.98 L570.62,119.22 L571.94,119.37" stroke="#2ca02c" stroke-opacity="0.18" stroke-width="2.10" stroke-dasharray="1,1.65"/>
<path d="M517.31,119.42 L519.00,119.23 L520.32,118.85 L521.50,118.22 L522.55,117.33 L523.51,116.17 L524.47,114.68 L525.33,113.08 L527.29,109.17 L528.25,107.54 L528.79,106.82 L529.29,106.34 L529.80,106.05 L530.25,105.96 L530.75,106.07 L531.25,106.38 L531.75,106.88 L532.30,107.61 L533.26,109.26 L535.81,114.28 L536.58,115.57 L537.31,116.60 L538.04,117.42 L538.82,118.09 L539.64,118.61 L540.55,118.98 L541.41,119.21 L542.37,119.34 L544.92,119.42 L547.38,119.22 L548.38,119.03 L549.34,118.75 L550.71,118.17 L552.03,117.35 L553.21,116.43 L555.72,114.25 L556.81,113.45 L557.95,112.90 L558.50,112.77 L559.04,112.73 L559.59,112.79 L560.14,112.93 L561.32,113.54 L562.42,114.36 L565.42,116.95 L566.38,117.63 L567.34,118.19 L568.34,118.64 L569.43,118.98 L570.62,119.22 L571.94,119.37" stroke="#2ca02c" stroke-dasharray="1,1.65"/>
<path d="M517.31,119.28 L518.63,119.03 L519.82,118.64 L520.91,118.06 L521.91,117.32 L522.87,116.38 L523.83,115.24 L526.83,110.94 L527.93,109.57 L528.52,108.99 L529.11,108.56 L529.70,108.30 L530.25,108.22 L530.80,108.30 L531.39,108.56 L531.98,108.99 L532.62,109.62 L533.71,111.00 L536.58,115.13 L537.45,116.19 L538.27,117.03 L539.09,117.72 L539.91,118.25 L540.78,118.67 L541.73,118.99 L542.64,119.19 L543.65,119.31 L545.88,119.34 L547.88,119.09 L548.75,118.87 L549.57,118.58 L550.84,117.94 L552.12,117.04 L553.26,116.05 L555.67,113.71 L556.81,112.78 L557.40,112.42 L557.95,112.17 L558.50,112.02 L559.04,111.98 L559.59,112.04 L560.14,112.21 L560.73,112.49 L561.32,112.88 L562.42,113.79 L565.42,116.66 L566.38,117.42 L567.34,118.04 L568.34,118.54 L569.43,118.93 L570.62,119.19 L571.94,119.36" stroke="#e69f00" stroke-opacity="0.18" stroke-width="2.10" stroke-dasharray="3.7,1.6"/>
<path d="M517.31,119.28 L518.63,119.03 L519.82,118.64 L520.91,118.06 L521.91,117.32 L522.87,116.38 L523.83,115.24 L526.83,110.94 L527.93,109.57 L528.52,108.99 L529.11,108.56 L529.70,108.30 L530.25,108.22 L530.80,108.30 L531.39,108.56 L531.98,108.99 L532.62,109.62 L533.71,111.00 L536.58,115.13 L537.45,116.19 L538.27,117.03 L539.09,117.72 L539.91,118.25 L540.78,118.67 L541.73,118.99 L542.64,119.19 L543.65,119.31 L545.88,119.34 L547.88,119.09 L548.75,118.87 L549.57,118.58 L550.84,117.94 L552.12,117.04 L553.26,116.05 L555.67,113.71 L556.81,112.78 L557.40,112.42 L557.95,112.17 L558.50,112.02 L559.04,111.98 L559.59,112.04 L560.14,112.21 L560.73,112.49 L561.32,112.88 L562.42,113.79 L565.42,116.66 L566.38,117.42 L567.34,118.04 L568.34,118.54 L569.43,118.93 L570.62,119.19 L571.94,119.36" stroke="#e69f00" stroke-dasharray="3.7,1.6"/>
<path d="M511.56,119.42 L512.07,119.27 L512.49,119.03 L512.87,118.66 L513.21,118.15 L513.85,116.72 L515.15,112.88 L515.52,112.21 L515.85,111.98 L516.03,112.02 L516.21,112.18 L516.60,112.87 L517.86,116.60 L518.39,117.87 L518.90,118.68 L519.47,119.17 L520.04,119.39 L520.84,119.48 L523.59,119.49 L524.62,119.41 L525.12,119.24 L525.50,118.94 L525.83,118.49 L526.11,117.85 L526.48,116.55 L526.83,114.65 L527.15,112.08 L527.46,108.87 L528.07,99.99 L529.44,75.34 L529.87,70.58 L530.07,69.44 L530.15,69.20 L530.25,69.11 L530.44,69.45 L530.62,70.46 L531.03,74.84 L532.58,102.42 L532.98,108.19 L533.40,112.54 L533.88,115.89 L534.12,117.00 L534.41,117.92 L534.72,118.57 L535.06,119.01 L535.47,119.28 L536.00,119.43" stroke="#4169e1" stroke-opacity="0.18" stroke-width="2.10"/>
<path d="M511.56,119.42 L512.07,119.27 L512.49,119.03 L512.87,118.66 L513.21,118.15 L513.85,116.72 L515.15,112.88 L515.52,112.21 L515.85,111.98 L516.03,112.02 L516.21,112.18 L516.60,112.87 L517.86,116.60 L518.39,117.87 L518.90,118.68 L519.47,119.17 L520.04,119.39 L520.84,119.48 L523.59,119.49 L524.62,119.41 L525.12,119.24 L525.50,118.94 L525.83,118.49 L526.11,117.85 L526.48,116.55 L526.83,114.65 L527.15,112.08 L527.46,108.87 L528.07,99.99 L529.44,75.34 L529.87,70.58 L530.07,69.44 L530.15,69.20 L530.25,69.11 L530.44,69.45 L530.62,70.46 L531.03,74.84 L532.58,102.42 L532.98,108.19 L533.40,112.54 L533.88,115.89 L534.12,117.00 L534.41,117.92 L534.72,118.57 L535.06,119.01 L535.47,119.28 L536.00,119.43" stroke="#4169e1"/>
</g>
<rect x="501.50" y="66.40" width="115.00" height="53.10" fill="none" stroke="#000" stroke-opacity="0.12" stroke-width="1.48"/>
<rect x="501.50" y="66.40" width="115.00" height="53.10" fill="none" stroke="#000" stroke-width="0.48"/>
<line x1="499.15" y1="119.50" x2="501.50" y2="119.50" stroke="#000" stroke-width="0.48"/>
<text x="496.80" y="122.20" font-size="6.85" text-anchor="end" textLength="14.96" lengthAdjust="spacingAndGlyphs" fill="#000">0.00</text>
<line x1="499.15" y1="100.70" x2="501.50" y2="100.70" stroke="#000" stroke-width="0.48"/>
<text x="496.80" y="103.40" font-size="6.85" text-anchor="end" textLength="14.96" lengthAdjust="spacingAndGlyphs" fill="#000">0.25</text>
<line x1="499.15" y1="81.89" x2="501.50" y2="81.89" stroke="#000" stroke-width="0.48"/>
<text x="496.80" y="84.59" font-size="6.85" text-anchor="end" textLength="14.96" lengthAdjust="spacingAndGlyphs" fill="#000">0.50</text>
<text x="559.00" y="61.50" font-size="13.71" text-anchor="middle" textLength="122.38" lengthAdjust="spacingAndGlyphs" fill="#000">chances are slight</text>
<g clip-path="url(#c031)" fill="none" stroke-width="1.10" stroke-linejoin="round">
<path d="M558.50,178.00 L558.50,126.90 L558.52,178.00" stroke="#4169e1" stroke-opacity="0.18" stroke-width="2.00"/>
<path d="M558.50,178.00 L558.50,126.90 L558.52,178.00" stroke="#4169e1" stroke-width="1.00"/>
</g>
<rect x="501.50" y="124.60" width="115.00" height="53.40" fill="none" stroke="#000" stroke-opacity="0.12" stroke-width="1.48"/>
<rect x="501.50" y="124.60" width="115.00" height="53.40" fill="none" stroke="#000" stroke-width="0.48"/>
<line x1="499.15" y1="178.00" x2="501.50" y2="178.00" stroke="#000" stroke-width="0.48"/>
<text x="496.80" y="180.70" font-size="6.85" text-anchor="end" textLength="4.28" lengthAdjust="spacingAndGlyphs" fill="#000">0</text>
<line x1="499.15" y1="156.26" x2="501.50" y2="156.26" stroke="#000" stroke-width="0.48"/>
<text x="496.80" y="158.96" font-size="6.85" text-anchor="end" textLength="12.83" lengthAdjust="spacingAndGlyphs" fill="#000">250</text>
<line x1="499.15" y1="134.51" x2="501.50" y2="134.51" stroke="#000" stroke-width="0.48"/>
<text x="496.80" y="137.21" font-size="6.85" text-anchor="end" textLength="12.83" lengthAdjust="spacingAndGlyphs" fill="#000">500</text>
<line x1="501.50" y1="178.00" x2="501.50" y2="180.35" stroke="#000" stroke-width="0.48"/>
<text x="501.50" y="187.70" font-size="6.85" text-anchor="middle" textLength="4.28" lengthAdjust="spacingAndGlyphs" fill="#000">0</text>
<line x1="530.25" y1="178.00" x2="530.25" y2="180.35" stroke="#000" stroke-width="0.48"/>
<text x="530.25" y="187.70" font-size="6.85" text-anchor="middle" textLength="8.55" lengthAdjust="spacingAndGlyphs" fill="#000">10</text>
<line x1="559.00" y1="178.00" x2="559.00" y2="180.35" stroke="#000" stroke-width="0.48"/>
<text x="559.00" y="187.70" font-size="6.85" text-anchor="middle" textLength="8.55" lengthAdjust="spacingAndGlyphs" fill="#000">20</text>
<line x1="587.75" y1="178.00" x2="587.75" y2="180.35" stroke="#000" stroke-width="0.48"/>
<text x="587.75" y="187.70" font-size="6.85" text-anchor="middle" textLength="8.55" lengthAdjust="spacingAndGlyphs" fill="#000">30</text>
<line x1="616.50" y1="178.00" x2="616.50" y2="180.35" stroke="#000" stroke-width="0.48"/>
<text x="616.50" y="187.70" font-size="6.85" text-anchor="middle" textLength="8.55" lengthAdjust="spacingAndGlyphs" fill="#000">40</text>
<text x="335.00" y="45.80" font-size="13.71" text-anchor="middle" textLength="149.40" lengthAdjust="spacingAndGlyphs" fill="#000" font-style="italic">Low Probability Words</text>
<g clip-path="url(#c100)" fill="none" stroke-width="1.10" stroke-linejoin="round">
<path d="M72.50,287.00 L72.50,236.00 L72.52,287.00" stroke="#2ca02c" stroke-opacity="0.18" stroke-width="2.00" stroke-dasharray="1,1.65"/>
<path d="M72.50,287.00 L72.50,236.00 L72.52,287.00" stroke="#2ca02c" stroke-dasharray="1,1.65" stroke-width="1.00"/>
<path d="M72.50,287.00 L72.50,237.30 L72.52,287.00" stroke="#4169e1" stroke-opacity="0.18" stroke-width="2.00"/>
<path d="M72.50,287.00 L72.50,237.30 L72.52,287.00" stroke="#4169e1" stroke-width="1.00"/>
</g>
<rect x="53.50" y="233.60" width="115.00" height="53.40" fill="none" stroke="#000" stroke-opacity="0.12" stroke-width="1.48"/>
<rect x="53.50" y="233.60" width="115.00" height="53.40" fill="none" stroke="#000" stroke-width="0.48"/>
<line x1="51.15" y1="287.00" x2="53.50" y2="287.00" stroke="#000" stroke-width="0.48"/>
<text x="48.80" y="289.70" font-size="6.85" text-anchor="end" textLength="4.28" lengthAdjust="spacingAndGlyphs" fill="#000">0</text>
<line x1="51.15" y1="268.15" x2="53.50" y2="268.15" stroke="#000" stroke-width="0.48"/>
<text x="48.80" y="270.85" font-size="6.85" text-anchor="end" textLength="12.83" lengthAdjust="spacingAndGlyphs" fill="#000">200</text>
<line x1="51.15" y1="249.30" x2="53.50" y2="249.30" stroke="#000" stroke-width="0.48"/>
<text x="48.80" y="252.00" font-size="6.85" text-anchor="end" textLength="12.83" lengthAdjust="spacingAndGlyphs" fill="#000">400</text>
<text x="111.00" y="229.10" font-size="13.71" text-anchor="middle" textLength="76.06" lengthAdjust="spacingAndGlyphs" fill="#000">about even</text>
<text x="31.70" y="261.30" font-size="10.28" text-anchor="middle" textLength="38.79" lengthAdjust="spacingAndGlyphs" fill="#000" transform="rotate(-90 31.70 261.30)">GPT-3.5</text>
<g clip-path="url(#c101)" fill="none" stroke-width="1.10" stroke-linejoin="round">
<path d="M72.55,345.50 L72.55,294.40 L72.57,345.50" stroke="#4169e1" stroke-opacity="0.18" stroke-width="2.00"/>
<path d="M72.55,345.50 L72.55,294.40 L72.57,345.50" stroke="#4169e1" stroke-width="1.00"/>
</g>
<rect x="53.50" y="292.50" width="115.00" height="53.00" fill="none" stroke="#000" stroke-opacity="0.12" stroke-width="1.48"/>
<rect x="53.50" y="292.50" width="115.00" height="53.00" fill="none" stroke="#000" stroke-width="0.48"/>
<line x1="51.15" y1="345.50" x2="53.50" y2="345.50" stroke="#000" stroke-width="0.48"/>
<text x="48.80" y="348.20" font-size="6.85" text-anchor="end" textLength="4.28" lengthAdjust="spacingAndGlyphs" fill="#000">0</text>
<line x1="51.15" y1="324.30" x2="53.50" y2="324.30" stroke="#000" stroke-width="0.48"/>
<text x="48.80" y="327.00" font-size="6.85" text-anchor="end" textLength="12.83" lengthAdjust="spacingAndGlyphs" fill="#000">200</text>
<line x1="51.15" y1="303.10" x2="53.50" y2="303.10" stroke="#000" stroke-width="0.48"/>
<text x="48.80" y="305.80" font-size="6.85" text-anchor="end" textLength="12.83" lengthAdjust="spacingAndGlyphs" fill="#000">400</text>
<line x1="53.50" y1="345.50" x2="53.50" y2="347.85" stroke="#000" stroke-width="0.48"/>
<text x="53.50" y="355.20" font-size="6.85" text-anchor="middle" textLength="8.55" lengthAdjust="spacingAndGlyphs" fill="#000">40</text>
<line x1="91.83" y1="345.50" x2="91.83" y2="347.85" stroke="#000" stroke-width="0.48"/>
<text x="91.83" y="355.20" font-size="6.85" text-anchor="middle" textLength="8.55" lengthAdjust="spacingAndGlyphs" fill="#000">60</text>
<line x1="130.17" y1="345.50" x2="130.17" y2="347.85" stroke="#000" stroke-width="0.48"/>
<text x="130.17" y="355.20" font-size="6.85" text-anchor="middle" textLength="8.55" lengthAdjust="spacingAndGlyphs" fill="#000">80</text>
<line x1="168.50" y1="345.50" x2="168.50" y2="347.85" stroke="#000" stroke-width="0.48"/>
<text x="168.50" y="355.20" font-size="6.85" text-anchor="middle" textLength="12.83" lengthAdjust="spacingAndGlyphs" fill="#000">100</text>
<text x="31.70" y="320.00" font-size="10.28" text-anchor="middle" textLength="29.18" lengthAdjust="spacingAndGlyphs" fill="#000" transform="rotate(-90 31.70 320.00)">GPT-4</text>
<g clip-path="url(#c110)" fill="none" stroke-width="1.10" stroke-linejoin="round">
<path d="M269.75,287.00 L269.75,236.00 L269.77,287.00" stroke="#2ca02c" stroke-opacity="0.18" stroke-width="2.00" stroke-dasharray="1,1.65"/>
<path d="M269.75,287.00 L269.75,236.00 L269.77,287.00" stroke="#2ca02c" stroke-dasharray="1,1.65" stroke-width="1.00"/>
<path d="M269.75,287.00 L269.75,235.80" stroke="#e69f00" stroke-opacity="0.18" stroke-width="2.00" stroke-dasharray="4.3,1.0"/>
<path d="M269.75,287.00 L269.75,235.80" stroke="#e69f00" stroke-dasharray="4.3,1.0" stroke-width="1.00"/>
<path d="M229.66,287.00 L280.65,287.00" stroke="#4169e1" stroke-opacity="0.18" stroke-width="2.10"/>
<path d="M229.66,287.00 L280.65,287.00" stroke="#4169e1"/>
</g>
<rect x="202.83" y="233.60" width="115.00" height="53.40" fill="none" stroke="#000" stroke-opacity="0.12" stroke-width="1.48"/>
<rect x="202.83" y="233.60" width="115.00" height="53.40" fill="none" stroke="#000" stroke-width="0.48"/>
<line x1="200.48" y1="287.00" x2="202.83" y2="287.00" stroke="#000" stroke-width="0.48"/>
<text x="198.13" y="289.70" font-size="6.85" text-anchor="end" textLength="4.28" lengthAdjust="spacingAndGlyphs" fill="#000">0</text>
<line x1="200.48" y1="253.29" x2="202.83" y2="253.29" stroke="#000" stroke-width="0.48"/>
<text x="198.13" y="255.99" font-size="6.85" text-anchor="end" textLength="12.83" lengthAdjust="spacingAndGlyphs" fill="#000">500</text>
<text x="260.33" y="229.10" font-size="13.71" text-anchor="middle" textLength="113.23" lengthAdjust="spacingAndGlyphs" fill="#000">better than even</text>
<g clip-path="url(#c111)" fill="none" stroke-width="1.10" stroke-linejoin="round">
<path d="M212.41,345.38 L213.28,345.23 L214.02,344.99 L214.66,344.65 L215.23,344.19 L215.75,343.61 L216.27,342.84 L216.79,341.83 L217.25,340.71 L218.05,338.18 L218.92,334.64 L219.66,330.98 L221.39,321.77 L222.20,318.11 L222.66,316.49 L223.06,315.44 L223.52,314.70 L223.75,314.54 L223.92,314.50 L224.10,314.54 L224.33,314.72 L224.79,315.48 L225.19,316.55 L225.65,318.18 L226.46,321.86 L228.58,333.04 L229.22,335.88 L229.79,338.06 L230.37,339.81 L230.94,341.13 L231.52,342.03 L232.09,342.53 L232.38,342.63 L232.73,342.63 L233.07,342.50 L233.42,342.24 L234.11,341.34 L234.80,339.95 L235.49,338.09 L236.18,335.81 L238.48,326.76 L239.35,323.80 L239.86,322.44 L240.32,321.57 L240.78,321.06 L241.19,320.93 L241.59,321.10 L242.05,321.65 L242.51,322.55 L243.03,323.95 L243.89,326.94 L246.19,336.04 L246.88,338.35 L247.58,340.28 L248.27,341.83 L249.01,343.09 L249.76,343.99 L250.63,344.66 L251.32,344.99 L252.12,345.23 L253.04,345.38 L254.19,345.45 L255.98,345.45 L257.70,345.37 L259.08,345.20 L260.24,344.96 L261.67,344.45 L263.06,343.70 L264.32,342.79 L266.80,340.79 L267.89,340.06 L268.93,339.60 L269.44,339.49 L269.96,339.45 L270.48,339.50 L271.05,339.65 L272.21,340.22 L273.24,340.95 L276.00,343.17 L277.67,344.22 L278.54,344.61 L279.40,344.90 L280.38,345.14 L281.41,345.30" stroke="#2ca02c" stroke-opacity="0.18" stroke-width="2.10" stroke-dasharray="1,1.65"/>
<path d="M212.41,345.38 L213.28,345.23 L214.02,344.99 L214.66,344.65 L215.23,344.19 L215.75,343.61 L216.27,342.84 L216.79,341.83 L217.25,340.71 L218.05,338.18 L218.92,334.64 L219.66,330.98 L221.39,321.77 L222.20,318.11 L222.66,316.49 L223.06,315.44 L223.52,314.70 L223.75,314.54 L223.92,314.50 L224.10,314.54 L224.33,314.72 L224.79,315.48 L225.19,316.55 L225.65,318.18 L226.46,321.86 L228.58,333.04 L229.22,335.88 L229.79,338.06 L230.37,339.81 L230.94,341.13 L231.52,342.03 L232.09,342.53 L232.38,342.63 L232.73,342.63 L233.07,342.50 L233.42,342.24 L234.11,341.34 L234.80,339.95 L235.49,338.09 L236.18,335.81 L238.48,326.76 L239.35,323.80 L239.86,322.44 L240.32,321.57 L240.78,321.06 L241.19,320.93 L241.59,321.10 L242.05,321.65 L242.51,322.55 L243.03,323.95 L243.89,326.94 L246.19,336.04 L246.88,338.35 L247.58,340.28 L248.27,341.83 L249.01,343.09 L249.76,343.99 L250.63,344.66 L251.32,344.99 L252.12,345.23 L253.04,345.38 L254.19,345.45 L255.98,345.45 L257.70,345.37 L259.08,345.20 L260.24,344.96 L261.67,344.45 L263.06,343.70 L264.32,342.79 L266.80,340.79 L267.89,340.06 L268.93,339.60 L269.44,339.49 L269.96,339.45 L270.48,339.50 L271.05,339.65 L272.21,340.22 L273.24,340.95 L276.00,343.17 L277.67,344.22 L278.54,344.61 L279.40,344.90 L280.38,345.14 L281.41,345.30" stroke="#2ca02c" stroke-dasharray="1,1.65"/>
<path d="M214.33,345.41 L215.19,345.25 L215.87,344.94 L216.43,344.47 L216.93,343.80 L217.41,342.84 L217.82,341.68 L218.23,340.15 L218.62,338.33 L219.30,334.04 L219.98,328.34 L221.96,306.93 L222.61,300.81 L222.97,298.26 L223.29,296.56 L223.62,295.53 L223.76,295.30 L223.91,295.22 L224.06,295.30 L224.24,295.59 L224.56,296.67 L224.92,298.62 L225.27,301.27 L225.92,307.51 L227.61,326.02 L228.11,330.71 L228.61,334.66 L229.09,337.66 L229.59,340.13 L230.12,342.03 L230.68,343.39 L231.31,344.31 L231.63,344.61 L231.99,344.81 L232.37,344.92 L232.75,344.91 L233.14,344.79 L233.49,344.57 L234.11,343.88 L234.65,342.87 L235.15,341.44 L235.62,339.58 L236.39,335.23 L237.13,329.37 L237.81,322.63 L239.23,307.00 L239.88,300.98 L240.24,298.49 L240.56,296.84 L240.89,295.86 L241.03,295.66 L241.18,295.60 L241.33,295.70 L241.51,296.01 L241.83,297.13 L242.16,298.92 L242.51,301.53 L243.13,307.40 L245.03,327.80 L245.65,333.15 L246.27,337.34 L246.98,340.73 L247.36,342.04 L247.75,343.04 L248.16,343.84 L248.63,344.47 L249.17,344.92 L249.79,345.22" stroke="#e69f00" stroke-opacity="0.18" stroke-width="2.10" stroke-dasharray="3.7,1.6"/>
<path d="M214.33,345.41 L215.19,345.25 L215.87,344.94 L216.43,344.47 L216.93,343.80 L217.41,342.84 L217.82,341.68 L218.23,340.15 L218.62,338.33 L219.30,334.04 L219.98,328.34 L221.96,306.93 L222.61,300.81 L222.97,298.26 L223.29,296.56 L223.62,295.53 L223.76,295.30 L223.91,295.22 L224.06,295.30 L224.24,295.59 L224.56,296.67 L224.92,298.62 L225.27,301.27 L225.92,307.51 L227.61,326.02 L228.11,330.71 L228.61,334.66 L229.09,337.66 L229.59,340.13 L230.12,342.03 L230.68,343.39 L231.31,344.31 L231.63,344.61 L231.99,344.81 L232.37,344.92 L232.75,344.91 L233.14,344.79 L233.49,344.57 L234.11,343.88 L234.65,342.87 L235.15,341.44 L235.62,339.58 L236.39,335.23 L237.13,329.37 L237.81,322.63 L239.23,307.00 L239.88,300.98 L240.24,298.49 L240.56,296.84 L240.89,295.86 L241.03,295.66 L241.18,295.60 L241.33,295.70 L241.51,296.01 L241.83,297.13 L242.16,298.92 L242.51,301.53 L243.13,307.40 L245.03,327.80 L245.65,333.15 L246.27,337.34 L246.98,340.73 L247.36,342.04 L247.75,343.04 L248.16,343.84 L248.63,344.47 L249.17,344.92 L249.79,345.22" stroke="#e69f00" stroke-dasharray="3.7,1.6"/>
<path d="M208.58,345.34 L209.68,345.18 L210.59,344.97 L211.43,344.66 L212.14,344.29 L212.85,343.81 L213.50,343.23 L214.15,342.52 L214.80,341.65 L215.90,339.79 L217.00,337.45 L218.03,334.87 L220.17,329.15 L221.20,326.69 L221.72,325.66 L222.24,324.81 L222.69,324.23 L223.15,323.82 L223.73,323.55 L224.31,323.59 L224.89,323.92 L225.54,324.62 L226.12,325.51 L226.77,326.72 L229.17,332.08 L230.27,334.19 L230.85,335.04 L231.43,335.66 L232.02,336.02 L232.53,336.10 L232.99,335.99 L233.51,335.66 L233.96,335.19 L234.48,334.48 L235.58,332.43 L237.97,326.82 L239.01,324.73 L239.59,323.83 L240.11,323.25 L240.63,322.89 L241.14,322.77 L241.73,322.94 L242.38,323.49 L243.02,324.39 L243.67,325.61 L244.84,328.39 L247.88,336.67 L248.78,338.77 L249.63,340.43 L250.47,341.79 L251.37,342.93 L252.28,343.77 L253.25,344.38 L254.03,344.70 L254.81,344.90 L255.65,345.00 L256.49,344.99 L257.40,344.86 L258.24,344.64 L259.08,344.31 L259.86,343.89 L261.15,342.93 L262.44,341.65 L263.67,340.17 L266.20,336.82 L267.43,335.44 L268.08,334.88 L268.72,334.47 L269.37,334.22 L269.95,334.16 L270.54,334.24 L271.18,334.51 L271.83,334.94 L272.48,335.52 L273.65,336.84 L276.11,340.11 L277.21,341.45 L278.44,342.73 L279.60,343.66 L280.96,344.44 L282.39,344.94 L284.07,345.27 L286.21,345.43" stroke="#4169e1" stroke-opacity="0.18" stroke-width="2.10"/>
<path d="M208.58,345.34 L209.68,345.18 L210.59,344.97 L211.43,344.66 L212.14,344.29 L212.85,343.81 L213.50,343.23 L214.15,342.52 L214.80,341.65 L215.90,339.79 L217.00,337.45 L218.03,334.87 L220.17,329.15 L221.20,326.69 L221.72,325.66 L222.24,324.81 L222.69,324.23 L223.15,323.82 L223.73,323.55 L224.31,323.59 L224.89,323.92 L225.54,324.62 L226.12,325.51 L226.77,326.72 L229.17,332.08 L230.27,334.19 L230.85,335.04 L231.43,335.66 L232.02,336.02 L232.53,336.10 L232.99,335.99 L233.51,335.66 L233.96,335.19 L234.48,334.48 L235.58,332.43 L237.97,326.82 L239.01,324.73 L239.59,323.83 L240.11,323.25 L240.63,322.89 L241.14,322.77 L241.73,322.94 L242.38,323.49 L243.02,324.39 L243.67,325.61 L244.84,328.39 L247.88,336.67 L248.78,338.77 L249.63,340.43 L250.47,341.79 L251.37,342.93 L252.28,343.77 L253.25,344.38 L254.03,344.70 L254.81,344.90 L255.65,345.00 L256.49,344.99 L257.40,344.86 L258.24,344.64 L259.08,344.31 L259.86,343.89 L261.15,342.93 L262.44,341.65 L263.67,340.17 L266.20,336.82 L267.43,335.44 L268.08,334.88 L268.72,334.47 L269.37,334.22 L269.95,334.16 L270.54,334.24 L271.18,334.51 L271.83,334.94 L272.48,335.52 L273.65,336.84 L276.11,340.11 L277.21,341.45 L278.44,342.73 L279.60,343.66 L280.96,344.44 L282.39,344.94 L284.07,345.27 L286.21,345.43" stroke="#4169e1"/>
</g>
<rect x="202.83" y="292.50" width="115.00" height="53.00" fill="none" stroke="#000" stroke-opacity="0.12" stroke-width="1.48"/>
<rect x="202.83" y="292.50" width="115.00" height="53.00" fill="none" stroke="#000" stroke-width="0.48"/>
<line x1="200.48" y1="345.50" x2="202.83" y2="345.50" stroke="#000" stroke-width="0.48"/>
<text x="198.13" y="348.20" font-size="6.85" text-anchor="end" textLength="14.96" lengthAdjust="spacingAndGlyphs" fill="#000">0.00</text>
<line x1="200.48" y1="326.60" x2="202.83" y2="326.60" stroke="#000" stroke-width="0.48"/>
<text x="198.13" y="329.30" font-size="6.85" text-anchor="end" textLength="14.96" lengthAdjust="spacingAndGlyphs" fill="#000">0.05</text>
<line x1="200.48" y1="307.70" x2="202.83" y2="307.70" stroke="#000" stroke-width="0.48"/>
<text x="198.13" y="310.40" font-size="6.85" text-anchor="end" textLength="14.96" lengthAdjust="spacingAndGlyphs" fill="#000">0.10</text>
<line x1="202.83" y1="345.50" x2="202.83" y2="347.85" stroke="#000" stroke-width="0.48"/>
<text x="202.83" y="355.20" font-size="6.85" text-anchor="middle" textLength="8.55" lengthAdjust="spacingAndGlyphs" fill="#000">40</text>
<line x1="241.16" y1="345.50" x2="241.16" y2="347.85" stroke="#000" stroke-width="0.48"/>
<text x="241.16" y="355.20" font-size="6.85" text-anchor="middle" textLength="8.55" lengthAdjust="spacingAndGlyphs" fill="#000">60</text>
<line x1="279.50" y1="345.50" x2="279.50" y2="347.85" stroke="#000" stroke-width="0.48"/>
<text x="279.50" y="355.20" font-size="6.85" text-anchor="middle" textLength="8.55" lengthAdjust="spacingAndGlyphs" fill="#000">80</text>
<line x1="317.83" y1="345.50" x2="317.83" y2="347.85" stroke="#000" stroke-width="0.48"/>
<text x="317.83" y="355.20" font-size="6.85" text-anchor="middle" textLength="12.83" lengthAdjust="spacingAndGlyphs" fill="#000">100</text>
<g clip-path="url(#c120)" fill="none" stroke-width="1.10" stroke-linejoin="round">
<path d="M428.50,287.00 L428.50,236.30" stroke="#e69f00" stroke-opacity="0.18" stroke-width="2.00" stroke-dasharray="4.3,1.0"/>
<path d="M428.50,287.00 L428.50,236.30" stroke="#e69f00" stroke-dasharray="4.3,1.0" stroke-width="1.00"/>
<path d="M402.96,287.00 L434.59,287.00" stroke="#4169e1" stroke-opacity="0.18" stroke-width="2.10"/>
<path d="M402.96,287.00 L434.59,287.00" stroke="#4169e1"/>
</g>
<rect x="352.17" y="233.60" width="115.00" height="53.40" fill="none" stroke="#000" stroke-opacity="0.12" stroke-width="1.48"/>
<rect x="352.17" y="233.60" width="115.00" height="53.40" fill="none" stroke="#000" stroke-width="0.48"/>
<line x1="349.82" y1="287.00" x2="352.17" y2="287.00" stroke="#000" stroke-width="0.48"/>
<text x="347.47" y="289.70" font-size="6.85" text-anchor="end" textLength="4.28" lengthAdjust="spacingAndGlyphs" fill="#000">0</text>
<line x1="349.82" y1="258.60" x2="352.17" y2="258.60" stroke="#000" stroke-width="0.48"/>
<text x="347.47" y="261.30" font-size="6.85" text-anchor="end" textLength="12.83" lengthAdjust="spacingAndGlyphs" fill="#000">200</text>
<text x="409.67" y="229.10" font-size="13.71" text-anchor="middle" textLength="58.97" lengthAdjust="spacingAndGlyphs" fill="#000">probably</text>
<g clip-path="url(#c121)" fill="none" stroke-width="1.10" stroke-linejoin="round">
<path d="M398.17,345.31 L399.71,345.03 L401.09,344.56 L402.48,343.85 L404.86,342.31 L405.75,341.80 L406.74,341.40 L407.64,341.26 L408.58,341.36 L409.57,341.71 L410.51,342.23 L413.48,344.11 L414.57,344.63 L415.61,344.97 L416.95,345.21 L418.24,345.23 L419.33,345.03 L420.27,344.60 L420.97,344.08 L421.61,343.37 L422.25,342.41 L422.85,341.27 L423.44,339.88 L424.09,338.10 L426.27,331.04 L427.06,328.79 L427.56,327.69 L428.00,326.97 L428.45,326.54 L428.84,326.42 L429.24,326.55 L429.69,326.99 L430.13,327.72 L430.63,328.83 L431.42,331.09 L433.55,338.00 L434.20,339.79 L434.79,341.20 L435.39,342.35 L435.98,343.26 L436.62,344.00 L437.27,344.52 L437.91,344.87 L438.56,345.07 L439.25,345.15 L439.95,345.09 L440.54,344.91 L441.13,344.59 L441.63,344.17 L442.13,343.60 L442.92,342.30 L443.71,340.49 L444.40,338.52 L445.94,333.70 L446.63,331.87 L446.98,331.17 L447.33,330.65 L447.68,330.33 L448.02,330.24 L448.37,330.36 L448.72,330.70 L449.06,331.24 L449.41,331.96 L450.10,333.81 L452.19,340.20 L452.88,341.88 L453.57,343.16 L454.37,344.18 L455.21,344.84 L456.25,345.25 L457.59,345.44" stroke="#2ca02c" stroke-opacity="0.18" stroke-width="2.10" stroke-dasharray="1,1.65"/>
<path d="M398.17,345.31 L399.71,345.03 L401.09,344.56 L402.48,343.85 L404.86,342.31 L405.75,341.80 L406.74,341.40 L407.64,341.26 L408.58,341.36 L409.57,341.71 L410.51,342.23 L413.48,344.11 L414.57,344.63 L415.61,344.97 L416.95,345.21 L418.24,345.23 L419.33,345.03 L420.27,344.60 L420.97,344.08 L421.61,343.37 L422.25,342.41 L422.85,341.27 L423.44,339.88 L424.09,338.10 L426.27,331.04 L427.06,328.79 L427.56,327.69 L428.00,326.97 L428.45,326.54 L428.84,326.42 L429.24,326.55 L429.69,326.99 L430.13,327.72 L430.63,328.83 L431.42,331.09 L433.55,338.00 L434.20,339.79 L434.79,341.20 L435.39,342.35 L435.98,343.26 L436.62,344.00 L437.27,344.52 L437.91,344.87 L438.56,345.07 L439.25,345.15 L439.95,345.09 L440.54,344.91 L441.13,344.59 L441.63,344.17 L442.13,343.60 L442.92,342.30 L443.71,340.49 L444.40,338.52 L445.94,333.70 L446.63,331.87 L446.98,331.17 L447.33,330.65 L447.68,330.33 L448.02,330.24 L448.37,330.36 L448.72,330.70 L449.06,331.24 L449.41,331.96 L450.10,333.81 L452.19,340.20 L452.88,341.88 L453.57,343.16 L454.37,344.18 L455.21,344.84 L456.25,345.25 L457.59,345.44" stroke="#2ca02c" stroke-dasharray="1,1.65"/>
<path d="M403.92,344.99 L404.39,344.66 L404.84,344.21 L405.27,343.64 L405.69,342.90 L406.53,340.90 L407.93,336.74 L408.48,335.29 L409.09,334.21 L409.38,333.93 L409.64,333.84 L409.88,333.89 L410.14,334.09 L410.67,334.90 L411.25,336.30 L412.65,340.46 L413.36,342.29 L414.18,343.80 L414.60,344.33 L415.08,344.76 L415.87,345.19 L416.87,345.41 L418.82,345.49 L420.62,345.41 L421.38,345.23 L421.96,344.92 L422.46,344.41 L422.88,343.71 L423.41,342.35 L423.89,340.48 L424.34,338.01 L424.78,334.73 L425.65,325.97 L427.10,307.18 L427.66,300.88 L427.98,298.07 L428.27,296.17 L428.56,295.00 L428.71,294.69 L428.85,294.62 L428.98,294.72 L429.11,294.98 L429.40,296.12 L429.69,298.00 L430.01,300.79 L430.56,307.07 L432.09,326.79 L432.59,332.07 L433.07,336.12 L433.59,339.50 L434.17,342.05 L434.49,343.02 L434.81,343.75 L435.15,344.32 L435.55,344.78" stroke="#e69f00" stroke-opacity="0.18" stroke-width="2.10" stroke-dasharray="3.7,1.6"/>
<path d="M403.92,344.99 L404.39,344.66 L404.84,344.21 L405.27,343.64 L405.69,342.90 L406.53,340.90 L407.93,336.74 L408.48,335.29 L409.09,334.21 L409.38,333.93 L409.64,333.84 L409.88,333.89 L410.14,334.09 L410.67,334.90 L411.25,336.30 L412.65,340.46 L413.36,342.29 L414.18,343.80 L414.60,344.33 L415.08,344.76 L415.87,345.19 L416.87,345.41 L418.82,345.49 L420.62,345.41 L421.38,345.23 L421.96,344.92 L422.46,344.41 L422.88,343.71 L423.41,342.35 L423.89,340.48 L424.34,338.01 L424.78,334.73 L425.65,325.97 L427.10,307.18 L427.66,300.88 L427.98,298.07 L428.27,296.17 L428.56,295.00 L428.71,294.69 L428.85,294.62 L428.98,294.72 L429.11,294.98 L429.40,296.12 L429.69,298.00 L430.01,300.79 L430.56,307.07 L432.09,326.79 L432.59,332.07 L433.07,336.12 L433.59,339.50 L434.17,342.05 L434.49,343.02 L434.81,343.75 L435.15,344.32 L435.55,344.78" stroke="#e69f00" stroke-dasharray="3.7,1.6"/>
<path d="M396.25,345.48 L398.32,345.38 L399.84,345.14 L401.09,344.72 L402.18,344.09 L403.10,343.30 L404.08,342.21 L404.95,341.03 L406.85,338.22 L407.67,337.18 L408.54,336.37 L409.30,336.00 L409.79,335.96 L410.33,336.10 L410.87,336.42 L411.47,336.96 L412.45,338.16 L415.00,341.86 L415.77,342.77 L416.47,343.46 L417.18,343.98 L417.88,344.34 L418.59,344.54 L419.30,344.57 L420.06,344.41 L420.82,344.05 L421.58,343.48 L422.29,342.75 L422.94,341.91 L423.65,340.83 L425.87,336.85 L426.69,335.53 L427.56,334.46 L427.99,334.11 L428.37,333.91 L428.81,333.82 L429.30,333.88 L429.79,334.13 L430.28,334.53 L431.20,335.65 L433.54,339.04 L434.24,339.83 L434.95,340.41 L435.66,340.78 L436.47,340.99 L437.40,341.07 L439.08,341.05 L440.11,340.98 L440.88,340.81 L441.58,340.49 L442.23,340.02 L442.83,339.42 L443.48,338.59 L445.50,335.51 L446.31,334.41 L446.75,333.96 L447.18,333.63 L447.61,333.44 L448.00,333.39 L448.43,333.47 L448.92,333.75 L449.41,334.20 L449.90,334.80 L450.82,336.28 L452.72,339.84 L453.59,341.33 L454.57,342.72 L455.55,343.76 L456.64,344.54 L457.89,345.06 L459.35,345.35 L461.42,345.47" stroke="#4169e1" stroke-opacity="0.18" stroke-width="2.10"/>
<path d="M396.25,345.48 L398.32,345.38 L399.84,345.14 L401.09,344.72 L402.18,344.09 L403.10,343.30 L404.08,342.21 L404.95,341.03 L406.85,338.22 L407.67,337.18 L408.54,336.37 L409.30,336.00 L409.79,335.96 L410.33,336.10 L410.87,336.42 L411.47,336.96 L412.45,338.16 L415.00,341.86 L415.77,342.77 L416.47,343.46 L417.18,343.98 L417.88,344.34 L418.59,344.54 L419.30,344.57 L420.06,344.41 L420.82,344.05 L421.58,343.48 L422.29,342.75 L422.94,341.91 L423.65,340.83 L425.87,336.85 L426.69,335.53 L427.56,334.46 L427.99,334.11 L428.37,333.91 L428.81,333.82 L429.30,333.88 L429.79,334.13 L430.28,334.53 L431.20,335.65 L433.54,339.04 L434.24,339.83 L434.95,340.41 L435.66,340.78 L436.47,340.99 L437.40,341.07 L439.08,341.05 L440.11,340.98 L440.88,340.81 L441.58,340.49 L442.23,340.02 L442.83,339.42 L443.48,338.59 L445.50,335.51 L446.31,334.41 L446.75,333.96 L447.18,333.63 L447.61,333.44 L448.00,333.39 L448.43,333.47 L448.92,333.75 L449.41,334.20 L449.90,334.80 L450.82,336.28 L452.72,339.84 L453.59,341.33 L454.57,342.72 L455.55,343.76 L456.64,344.54 L457.89,345.06 L459.35,345.35 L461.42,345.47" stroke="#4169e1"/>
</g>
<rect x="352.17" y="292.50" width="115.00" height="53.00" fill="none" stroke="#000" stroke-opacity="0.12" stroke-width="1.48"/>
<rect x="352.17" y="292.50" width="115.00" height="53.00" fill="none" stroke="#000" stroke-width="0.48"/>
<line x1="349.82" y1="345.50" x2="352.17" y2="345.50" stroke="#000" stroke-width="0.48"/>
<text x="347.47" y="348.20" font-size="6.85" text-anchor="end" textLength="10.69" lengthAdjust="spacingAndGlyphs" fill="#000">0.0</text>
<line x1="349.82" y1="324.30" x2="352.17" y2="324.30" stroke="#000" stroke-width="0.48"/>
<text x="347.47" y="327.00" font-size="6.85" text-anchor="end" textLength="10.69" lengthAdjust="spacingAndGlyphs" fill="#000">0.1</text>
<line x1="349.82" y1="303.10" x2="352.17" y2="303.10" stroke="#000" stroke-width="0.48"/>
<text x="347.47" y="305.80" font-size="6.85" text-anchor="end" textLength="10.69" lengthAdjust="spacingAndGlyphs" fill="#000">0.2</text>
<line x1="352.17" y1="345.50" x2="352.17" y2="347.85" stroke="#000" stroke-width="0.48"/>
<text x="352.17" y="355.20" font-size="6.85" text-anchor="middle" textLength="8.55" lengthAdjust="spacingAndGlyphs" fill="#000">40</text>
<line x1="390.50" y1="345.50" x2="390.50" y2="347.85" stroke="#000" stroke-width="0.48"/>
<text x="390.50" y="355.20" font-size="6.85" text-anchor="middle" textLength="8.55" lengthAdjust="spacingAndGlyphs" fill="#000">60</text>
<line x1="428.84" y1="345.50" x2="428.84" y2="347.85" stroke="#000" stroke-width="0.48"/>
<text x="428.84" y="355.20" font-size="6.85" text-anchor="middle" textLength="8.55" lengthAdjust="spacingAndGlyphs" fill="#000">80</text>
<line x1="467.17" y1="345.50" x2="467.17" y2="347.85" stroke="#000" stroke-width="0.48"/>
<text x="467.17" y="355.20" font-size="6.85" text-anchor="middle" textLength="12.83" lengthAdjust="spacingAndGlyphs" fill="#000">100</text>
<g clip-path="url(#c130)" fill="none" stroke-width="1.10" stroke-linejoin="round">
<path d="M570.50,286.92 L571.13,286.76 L571.61,286.46 L572.02,286.00 L572.38,285.35 L572.70,284.46 L573.03,283.20 L573.60,279.84 L574.09,275.49 L574.58,269.69 L575.99,247.91 L576.45,241.66 L576.94,237.21 L577.19,236.08 L577.29,235.84 L577.40,235.76 L577.51,235.84 L577.62,236.09 L577.86,237.24 L578.38,242.05 L578.84,248.40 L580.07,267.52 L580.83,276.64 L581.21,279.87 L581.61,282.43 L582.05,284.30 L582.54,285.59 L582.92,286.19 L583.38,286.61 L583.92,286.84 L584.63,286.96 L587.65,287.00 L590.47,286.96 L591.48,286.78 L592.21,286.40 L592.59,286.03 L592.95,285.55 L593.63,284.15 L594.31,282.05 L595.53,277.27 L595.99,275.70 L596.51,274.53 L596.75,274.26 L596.97,274.19 L597.19,274.29 L597.43,274.59 L597.92,275.73 L598.38,277.31 L599.69,282.38 L600.15,283.82 L600.58,284.88 L601.10,285.77 L601.64,286.36 L602.27,286.73 L603.08,286.92" stroke="#2ca02c" stroke-opacity="0.18" stroke-width="2.10" stroke-dasharray="1,1.65"/>
<path d="M570.50,286.92 L571.13,286.76 L571.61,286.46 L572.02,286.00 L572.38,285.35 L572.70,284.46 L573.03,283.20 L573.60,279.84 L574.09,275.49 L574.58,269.69 L575.99,247.91 L576.45,241.66 L576.94,237.21 L577.19,236.08 L577.29,235.84 L577.40,235.76 L577.51,235.84 L577.62,236.09 L577.86,237.24 L578.38,242.05 L578.84,248.40 L580.07,267.52 L580.83,276.64 L581.21,279.87 L581.61,282.43 L582.05,284.30 L582.54,285.59 L582.92,286.19 L583.38,286.61 L583.92,286.84 L584.63,286.96 L587.65,287.00 L590.47,286.96 L591.48,286.78 L592.21,286.40 L592.59,286.03 L592.95,285.55 L593.63,284.15 L594.31,282.05 L595.53,277.27 L595.99,275.70 L596.51,274.53 L596.75,274.26 L596.97,274.19 L597.19,274.29 L597.43,274.59 L597.92,275.73 L598.38,277.31 L599.69,282.38 L600.15,283.82 L600.58,284.88 L601.10,285.77 L601.64,286.36 L602.27,286.73 L603.08,286.92" stroke="#2ca02c" stroke-dasharray="1,1.65"/>
<path d="M568.58,286.87 L569.22,286.70 L569.78,286.40 L570.26,285.97 L570.70,285.37 L571.10,284.58 L571.46,283.62 L571.82,282.39 L572.18,280.83 L572.78,277.44 L573.42,272.70 L575.18,256.11 L575.78,251.16 L576.10,249.11 L576.42,247.59 L576.74,246.69 L576.90,246.48 L577.02,246.43 L577.14,246.48 L577.30,246.69 L577.62,247.59 L577.93,249.10 L578.29,251.43 L578.89,256.46 L580.49,271.67 L581.01,275.78 L581.49,278.91 L582.01,281.56 L582.57,283.62 L583.17,285.08 L583.49,285.61 L583.85,286.05 L584.33,286.45 L584.85,286.71 L585.49,286.87 L586.37,286.96 L588.33,286.97 L590.56,286.90 L592.12,286.76 L593.48,286.53 L595.08,286.07 L596.60,285.40 L597.96,284.62 L600.67,282.83 L601.87,282.18 L603.03,281.78 L604.15,281.66 L605.27,281.83 L606.51,282.32 L607.63,282.97 L610.67,284.95 L612.46,285.86 L613.38,286.20 L614.34,286.47 L616.50,286.82" stroke="#e69f00" stroke-opacity="0.18" stroke-width="2.10" stroke-dasharray="3.7,1.6"/>
<path d="M568.58,286.87 L569.22,286.70 L569.78,286.40 L570.26,285.97 L570.70,285.37 L571.10,284.58 L571.46,283.62 L571.82,282.39 L572.18,280.83 L572.78,277.44 L573.42,272.70 L575.18,256.11 L575.78,251.16 L576.10,249.11 L576.42,247.59 L576.74,246.69 L576.90,246.48 L577.02,246.43 L577.14,246.48 L577.30,246.69 L577.62,247.59 L577.93,249.10 L578.29,251.43 L578.89,256.46 L580.49,271.67 L581.01,275.78 L581.49,278.91 L582.01,281.56 L582.57,283.62 L583.17,285.08 L583.49,285.61 L583.85,286.05 L584.33,286.45 L584.85,286.71 L585.49,286.87 L586.37,286.96 L588.33,286.97 L590.56,286.90 L592.12,286.76 L593.48,286.53 L595.08,286.07 L596.60,285.40 L597.96,284.62 L600.67,282.83 L601.87,282.18 L603.03,281.78 L604.15,281.66 L605.27,281.83 L606.51,282.32 L607.63,282.97 L610.67,284.95 L612.46,285.86 L613.38,286.20 L614.34,286.47 L616.50,286.82" stroke="#e69f00" stroke-dasharray="3.7,1.6"/>
<path d="M551.33,286.99 L554.59,286.90 L556.71,286.63 L557.64,286.40 L558.45,286.09 L559.27,285.68 L560.03,285.18 L561.01,284.36 L561.99,283.33 L563.02,282.07 L565.46,278.83 L566.23,277.95 L566.93,277.27 L567.64,276.73 L568.40,276.33 L569.11,276.08 L570.57,275.69 L571.17,275.46 L571.77,275.10 L572.31,274.64 L572.91,273.95 L573.51,273.09 L575.36,269.82 L576.06,268.73 L576.77,268.00 L577.10,267.83 L577.42,267.78 L577.80,267.87 L578.24,268.19 L578.67,268.73 L579.11,269.47 L579.92,271.29 L581.66,275.94 L582.42,277.79 L583.29,279.51 L584.16,280.76 L584.81,281.42 L585.57,281.97 L588.62,283.44 L591.44,285.15 L592.53,285.74 L593.40,286.11 L594.22,286.38 L595.03,286.55 L595.85,286.64 L596.66,286.63 L597.42,286.54 L598.18,286.35 L598.89,286.07 L600.03,285.37 L601.12,284.41 L602.10,283.32 L604.22,280.67 L605.14,279.71 L605.63,279.33 L606.06,279.08 L606.55,278.92 L606.99,278.89 L607.42,278.96 L607.91,279.16 L608.40,279.47 L608.89,279.89 L609.81,280.90 L612.15,283.81 L612.86,284.56 L613.57,285.20 L614.27,285.71 L614.98,286.11 L615.68,286.41 L616.50,286.64" stroke="#4169e1" stroke-opacity="0.18" stroke-width="2.10"/>
<path d="M551.33,286.99 L554.59,286.90 L556.71,286.63 L557.64,286.40 L558.45,286.09 L559.27,285.68 L560.03,285.18 L561.01,284.36 L561.99,283.33 L563.02,282.07 L565.46,278.83 L566.23,277.95 L566.93,277.27 L567.64,276.73 L568.40,276.33 L569.11,276.08 L570.57,275.69 L571.17,275.46 L571.77,275.10 L572.31,274.64 L572.91,273.95 L573.51,273.09 L575.36,269.82 L576.06,268.73 L576.77,268.00 L577.10,267.83 L577.42,267.78 L577.80,267.87 L578.24,268.19 L578.67,268.73 L579.11,269.47 L579.92,271.29 L581.66,275.94 L582.42,277.79 L583.29,279.51 L584.16,280.76 L584.81,281.42 L585.57,281.97 L588.62,283.44 L591.44,285.15 L592.53,285.74 L593.40,286.11 L594.22,286.38 L595.03,286.55 L595.85,286.64 L596.66,286.63 L597.42,286.54 L598.18,286.35 L598.89,286.07 L600.03,285.37 L601.12,284.41 L602.10,283.32 L604.22,280.67 L605.14,279.71 L605.63,279.33 L606.06,279.08 L606.55,278.92 L606.99,278.89 L607.42,278.96 L607.91,279.16 L608.40,279.47 L608.89,279.89 L609.81,280.90 L612.15,283.81 L612.86,284.56 L613.57,285.20 L614.27,285.71 L614.98,286.11 L615.68,286.41 L616.50,286.64" stroke="#4169e1"/>
</g>
<rect x="501.50" y="233.60" width="115.00" height="53.40" fill="none" stroke="#000" stroke-opacity="0.12" stroke-width="1.48"/>
<rect x="501.50" y="233.60" width="115.00" height="53.40" fill="none" stroke="#000" stroke-width="0.48"/>
<line x1="499.15" y1="287.00" x2="501.50" y2="287.00" stroke="#000" stroke-width="0.48"/>
<text x="496.80" y="289.70" font-size="6.85" text-anchor="end" textLength="10.69" lengthAdjust="spacingAndGlyphs" fill="#000">0.0</text>
<line x1="499.15" y1="265.65" x2="501.50" y2="265.65" stroke="#000" stroke-width="0.48"/>
<text x="496.80" y="268.35" font-size="6.85" text-anchor="end" textLength="10.69" lengthAdjust="spacingAndGlyphs" fill="#000">0.1</text>
<line x1="499.15" y1="244.30" x2="501.50" y2="244.30" stroke="#000" stroke-width="0.48"/>
<text x="496.80" y="247.00" font-size="6.85" text-anchor="end" textLength="10.69" lengthAdjust="spacingAndGlyphs" fill="#000">0.2</text>
<text x="559.00" y="229.10" font-size="13.71" text-anchor="middle" textLength="72.30" lengthAdjust="spacingAndGlyphs" fill="#000">we believe</text>
<g clip-path="url(#c131)" fill="none" stroke-width="1.10" stroke-linejoin="round">
<path d="M587.75,345.41 L588.57,345.24 L589.21,344.93 L589.75,344.45 L590.24,343.76 L590.70,342.79 L591.09,341.63 L591.49,340.10 L591.85,338.30 L592.49,334.15 L593.16,328.36 L595.07,306.94 L595.68,301.01 L596.01,298.49 L596.32,296.78 L596.62,295.70 L596.77,295.41 L596.92,295.29 L597.07,295.35 L597.23,295.57 L597.56,296.67 L597.89,298.53 L598.26,301.32 L598.87,307.33 L600.54,326.29 L601.05,331.22 L601.57,335.30 L602.09,338.50 L602.63,341.00 L603.21,342.81 L603.85,344.06 L604.18,344.49 L604.55,344.82 L604.97,345.08 L605.43,345.26 L606.67,345.43 L608.31,345.35 L609.47,345.09 L610.41,344.64 L611.23,343.96 L611.96,343.01 L612.50,342.05 L613.02,340.90 L613.54,339.50 L614.08,337.76 L615.02,334.16 L616.91,326.06 L617.70,323.19 L618.09,322.07 L618.46,321.27 L618.82,320.72 L619.19,320.43 L619.40,320.40 L619.64,320.47 L620.10,320.94 L620.55,321.81 L621.04,323.15 L621.92,326.37 L624.17,335.93" stroke="#e69f00" stroke-opacity="0.18" stroke-width="2.10" stroke-dasharray="3.7,1.6"/>
<path d="M587.75,345.41 L588.57,345.24 L589.21,344.93 L589.75,344.45 L590.24,343.76 L590.70,342.79 L591.09,341.63 L591.49,340.10 L591.85,338.30 L592.49,334.15 L593.16,328.36 L595.07,306.94 L595.68,301.01 L596.01,298.49 L596.32,296.78 L596.62,295.70 L596.77,295.41 L596.92,295.29 L597.07,295.35 L597.23,295.57 L597.56,296.67 L597.89,298.53 L598.26,301.32 L598.87,307.33 L600.54,326.29 L601.05,331.22 L601.57,335.30 L602.09,338.50 L602.63,341.00 L603.21,342.81 L603.85,344.06 L604.18,344.49 L604.55,344.82 L604.97,345.08 L605.43,345.26 L606.67,345.43 L608.31,345.35 L609.47,345.09 L610.41,344.64 L611.23,343.96 L611.96,343.01 L612.50,342.05 L613.02,340.90 L613.54,339.50 L614.08,337.76 L615.02,334.16 L616.91,326.06 L617.70,323.19 L618.09,322.07 L618.46,321.27 L618.82,320.72 L619.19,320.43 L619.40,320.40 L619.64,320.47 L620.10,320.94 L620.55,321.81 L621.04,323.15 L621.92,326.37 L624.17,335.93" stroke="#e69f00" stroke-dasharray="3.7,1.6"/>
<path d="M543.67,345.50 L548.50,345.43 L549.98,345.33 L551.19,345.15 L552.26,344.91 L553.27,344.59 L557.09,343.03 L557.90,342.82 L558.71,342.72 L559.78,342.77 L560.85,343.02 L564.28,344.42 L565.76,344.89 L567.10,345.16 L568.44,345.25 L570.05,345.16 L571.60,344.84 L573.01,344.37 L576.09,343.07 L576.97,342.81 L577.77,342.67 L578.58,342.63 L579.45,342.70 L582.67,343.40 L584.29,343.58 L585.29,343.56 L586.23,343.45 L587.04,343.27 L587.78,343.00 L588.72,342.41 L589.52,341.57 L590.26,340.42 L590.93,339.00 L591.60,337.18 L592.28,334.97 L594.42,326.57 L595.16,324.01 L595.63,322.73 L596.04,321.90 L596.44,321.35 L596.84,321.12 L597.24,321.22 L597.71,321.73 L598.18,322.65 L598.65,323.93 L599.46,326.77 L601.61,335.49 L602.28,337.79 L602.88,339.52 L603.42,340.75 L604.02,341.81 L604.63,342.53 L605.30,343.00 L605.70,343.13 L606.11,343.17 L606.58,343.11 L607.05,342.95 L608.05,342.32 L609.13,341.31 L610.13,340.10 L611.21,338.60 L614.57,333.19 L615.77,331.41 L616.45,330.57 L617.05,329.92 L617.65,329.41 L618.19,329.07 L618.86,328.82 L619.53,328.77 L620.21,328.92 L620.94,329.30 L621.68,329.91 L622.42,330.71 L623.23,331.76 L624.17,333.17" stroke="#4169e1" stroke-opacity="0.18" stroke-width="2.10"/>
<path d="M543.67,345.50 L548.50,345.43 L549.98,345.33 L551.19,345.15 L552.26,344.91 L553.27,344.59 L557.09,343.03 L557.90,342.82 L558.71,342.72 L559.78,342.77 L560.85,343.02 L564.28,344.42 L565.76,344.89 L567.10,345.16 L568.44,345.25 L570.05,345.16 L571.60,344.84 L573.01,344.37 L576.09,343.07 L576.97,342.81 L577.77,342.67 L578.58,342.63 L579.45,342.70 L582.67,343.40 L584.29,343.58 L585.29,343.56 L586.23,343.45 L587.04,343.27 L587.78,343.00 L588.72,342.41 L589.52,341.57 L590.26,340.42 L590.93,339.00 L591.60,337.18 L592.28,334.97 L594.42,326.57 L595.16,324.01 L595.63,322.73 L596.04,321.90 L596.44,321.35 L596.84,321.12 L597.24,321.22 L597.71,321.73 L598.18,322.65 L598.65,323.93 L599.46,326.77 L601.61,335.49 L602.28,337.79 L602.88,339.52 L603.42,340.75 L604.02,341.81 L604.63,342.53 L605.30,343.00 L605.70,343.13 L606.11,343.17 L606.58,343.11 L607.05,342.95 L608.05,342.32 L609.13,341.31 L610.13,340.10 L611.21,338.60 L614.57,333.19 L615.77,331.41 L616.45,330.57 L617.05,329.92 L617.65,329.41 L618.19,329.07 L618.86,328.82 L619.53,328.77 L620.21,328.92 L620.94,329.30 L621.68,329.91 L622.42,330.71 L623.23,331.76 L624.17,333.17" stroke="#4169e1"/>
</g>
<rect x="501.50" y="292.50" width="115.00" height="53.00" fill="none" stroke="#000" stroke-opacity="0.12" stroke-width="1.48"/>
<rect x="501.50" y="292.50" width="115.00" height="53.00" fill="none" stroke="#000" stroke-width="0.48"/>
<line x1="499.15" y1="345.50" x2="501.50" y2="345.50" stroke="#000" stroke-width="0.48"/>
<text x="496.80" y="348.20" font-size="6.85" text-anchor="end" textLength="10.69" lengthAdjust="spacingAndGlyphs" fill="#000">0.0</text>
<line x1="499.15" y1="317.61" x2="501.50" y2="317.61" stroke="#000" stroke-width="0.48"/>
<text x="496.80" y="320.31" font-size="6.85" text-anchor="end" textLength="10.69" lengthAdjust="spacingAndGlyphs" fill="#000">0.1</text>
<line x1="501.50" y1="345.50" x2="501.50" y2="347.85" stroke="#000" stroke-width="0.48"/>
<text x="501.50" y="355.20" font-size="6.85" text-anchor="middle" textLength="8.55" lengthAdjust="spacingAndGlyphs" fill="#000">40</text>
<line x1="539.83" y1="345.50" x2="539.83" y2="347.85" stroke="#000" stroke-width="0.48"/>
<text x="539.83" y="355.20" font-size="6.85" text-anchor="middle" textLength="8.55" lengthAdjust="spacingAndGlyphs" fill="#000">60</text>
<line x1="578.17" y1="345.50" x2="578.17" y2="347.85" stroke="#000" stroke-width="0.48"/>
<text x="578.17" y="355.20" font-size="6.85" text-anchor="middle" textLength="8.55" lengthAdjust="spacingAndGlyphs" fill="#000">80</text>
<line x1="616.50" y1="345.50" x2="616.50" y2="347.85" stroke="#000" stroke-width="0.48"/>
<text x="616.50" y="355.20" font-size="6.85" text-anchor="middle" textLength="12.83" lengthAdjust="spacingAndGlyphs" fill="#000">100</text>
<text x="335.00" y="213.40" font-size="13.71" text-anchor="middle" textLength="186.61" lengthAdjust="spacingAndGlyphs" fill="#000" font-style="italic">Moderate Probability Words</text>
<g clip-path="url(#c200)" fill="none" stroke-width="1.10" stroke-linejoin="round">
<path d="M124.42,454.50 L125.33,454.48 L125.82,454.39 L126.19,454.18 L126.49,453.81 L126.76,453.21 L127.00,452.29 L127.42,449.44 L127.80,444.99 L128.16,438.67 L129.43,408.96 L129.71,405.07 L129.85,404.10 L129.97,403.82 L130.11,404.17 L130.25,405.21 L130.57,409.83 L131.62,435.13 L132.08,444.00 L132.58,449.88 L132.84,451.73 L133.14,453.03 L133.38,453.67 L133.67,454.09 L134.02,454.34 L134.49,454.46 L135.49,454.47 L136.16,454.34 L136.62,454.04 L137.01,453.47 L137.45,452.24 L137.86,450.31 L139.22,441.11 L139.50,440.03 L139.63,439.79 L139.77,439.72 L139.89,439.82 L140.03,440.13 L140.31,441.29 L141.58,449.98 L141.95,451.83 L142.32,453.07 L142.76,453.90 L143.00,454.15 L143.28,454.32 L143.97,454.47 L145.50,454.50" stroke="#2ca02c" stroke-opacity="0.18" stroke-width="2.10" stroke-dasharray="1,1.65"/>
<path d="M124.42,454.50 L125.33,454.48 L125.82,454.39 L126.19,454.18 L126.49,453.81 L126.76,453.21 L127.00,452.29 L127.42,449.44 L127.80,444.99 L128.16,438.67 L129.43,408.96 L129.71,405.07 L129.85,404.10 L129.97,403.82 L130.11,404.17 L130.25,405.21 L130.57,409.83 L131.62,435.13 L132.08,444.00 L132.58,449.88 L132.84,451.73 L133.14,453.03 L133.38,453.67 L133.67,454.09 L134.02,454.34 L134.49,454.46 L135.49,454.47 L136.16,454.34 L136.62,454.04 L137.01,453.47 L137.45,452.24 L137.86,450.31 L139.22,441.11 L139.50,440.03 L139.63,439.79 L139.77,439.72 L139.89,439.82 L140.03,440.13 L140.31,441.29 L141.58,449.98 L141.95,451.83 L142.32,453.07 L142.76,453.90 L143.00,454.15 L143.28,454.32 L143.97,454.47 L145.50,454.50" stroke="#2ca02c" stroke-dasharray="1,1.65"/>
<path d="M123.46,454.50 L124.32,454.46 L124.86,454.35 L125.30,454.12 L125.65,453.76 L125.97,453.17 L126.26,452.37 L126.78,449.94 L127.22,446.53 L127.66,441.62 L129.25,418.61 L129.64,415.35 L129.81,414.62 L129.98,414.38 L130.17,414.71 L130.36,415.65 L130.77,419.39 L132.09,439.01 L132.67,445.90 L132.95,448.42 L133.26,450.46 L133.58,451.97 L133.93,453.06 L134.22,453.62 L134.55,454.00 L134.92,454.22 L135.33,454.26 L135.74,454.13 L136.10,453.84 L136.43,453.37 L136.71,452.74 L137.15,451.29 L137.58,449.28 L139.07,439.85 L139.43,438.53 L139.61,438.22 L139.76,438.14 L139.92,438.25 L140.09,438.59 L140.43,439.89 L141.95,449.43 L142.39,451.48 L142.83,452.86 L143.35,453.79 L143.64,454.08 L143.96,454.28 L144.77,454.46 L146.46,454.50" stroke="#e69f00" stroke-opacity="0.18" stroke-width="2.10" stroke-dasharray="3.7,1.6"/>
<path d="M123.46,454.50 L124.32,454.46 L124.86,454.35 L125.30,454.12 L125.65,453.76 L125.97,453.17 L126.26,452.37 L126.78,449.94 L127.22,446.53 L127.66,441.62 L129.25,418.61 L129.64,415.35 L129.81,414.62 L129.98,414.38 L130.17,414.71 L130.36,415.65 L130.77,419.39 L132.09,439.01 L132.67,445.90 L132.95,448.42 L133.26,450.46 L133.58,451.97 L133.93,453.06 L134.22,453.62 L134.55,454.00 L134.92,454.22 L135.33,454.26 L135.74,454.13 L136.10,453.84 L136.43,453.37 L136.71,452.74 L137.15,451.29 L137.58,449.28 L139.07,439.85 L139.43,438.53 L139.61,438.22 L139.76,438.14 L139.92,438.25 L140.09,438.59 L140.43,439.89 L141.95,449.43 L142.39,451.48 L142.83,452.86 L143.35,453.79 L143.64,454.08 L143.96,454.28 L144.77,454.46 L146.46,454.50" stroke="#e69f00" stroke-dasharray="3.7,1.6"/>
<path d="M53.50,454.50 L86.40,454.45 L93.02,454.30 L98.10,453.99 L102.80,453.45 L107.21,452.65 L111.14,451.69 L118.91,449.53 L122.17,448.78 L125.24,448.32 L128.22,448.17 L129.85,448.21 L131.48,448.35 L133.20,448.58 L134.93,448.90 L138.19,449.69 L147.30,452.19 L150.28,452.85 L153.25,453.38 L156.51,453.81 L159.96,454.11 L163.80,454.31 L168.50,454.43" stroke="#4169e1" stroke-opacity="0.18" stroke-width="2.10"/>
<path d="M53.50,454.50 L86.40,454.45 L93.02,454.30 L98.10,453.99 L102.80,453.45 L107.21,452.65 L111.14,451.69 L118.91,449.53 L122.17,448.78 L125.24,448.32 L128.22,448.17 L129.85,448.21 L131.48,448.35 L133.20,448.58 L134.93,448.90 L138.19,449.69 L147.30,452.19 L150.28,452.85 L153.25,453.38 L156.51,453.81 L159.96,454.11 L163.80,454.31 L168.50,454.43" stroke="#4169e1"/>
</g>
<rect x="53.50" y="401.50" width="115.00" height="53.00" fill="none" stroke="#000" stroke-opacity="0.12" stroke-width="1.48"/>
<rect x="53.50" y="401.50" width="115.00" height="53.00" fill="none" stroke="#000" stroke-width="0.48"/>
<line x1="51.15" y1="454.50" x2="53.50" y2="454.50" stroke="#000" stroke-width="0.48"/>
<text x="48.80" y="457.20" font-size="6.85" text-anchor="end" textLength="10.69" lengthAdjust="spacingAndGlyphs" fill="#000">0.0</text>
<line x1="51.15" y1="433.38" x2="53.50" y2="433.38" stroke="#000" stroke-width="0.48"/>
<text x="48.80" y="436.08" font-size="6.85" text-anchor="end" textLength="10.69" lengthAdjust="spacingAndGlyphs" fill="#000">0.2</text>
<line x1="51.15" y1="412.27" x2="53.50" y2="412.27" stroke="#000" stroke-width="0.48"/>
<text x="48.80" y="414.97" font-size="6.85" text-anchor="end" textLength="10.69" lengthAdjust="spacingAndGlyphs" fill="#000">0.4</text>
<text x="111.00" y="396.80" font-size="13.71" text-anchor="middle" textLength="34.72" lengthAdjust="spacingAndGlyphs" fill="#000">likely</text>
<text x="33.90" y="429.00" font-size="10.28" text-anchor="middle" textLength="38.79" lengthAdjust="spacingAndGlyphs" fill="#000" transform="rotate(-90 33.90 429.00)">GPT-3.5</text>
<g clip-path="url(#c201)" fill="none" stroke-width="1.10" stroke-linejoin="round">
<path d="M125.38,513.40 L126.71,513.32 L127.03,513.16 L127.27,512.86 L127.52,512.28 L127.71,511.46 L128.07,508.75 L128.38,504.35 L128.68,497.92 L129.72,467.33 L129.95,463.37 L130.07,462.41 L130.17,462.14 L130.28,462.49 L130.40,463.65 L130.66,468.49 L131.50,493.81 L131.88,503.05 L132.28,508.94 L132.51,510.84 L132.76,512.07 L132.95,512.65 L133.19,513.05 L133.47,513.26 L133.86,513.37 L135.96,513.40 L137.19,513.34 L137.95,513.19 L139.22,512.76 L139.76,512.69 L140.32,512.77 L141.97,513.29 L143.58,513.40" stroke="#2ca02c" stroke-opacity="0.18" stroke-width="2.10" stroke-dasharray="1,1.65"/>
<path d="M125.38,513.40 L126.71,513.32 L127.03,513.16 L127.27,512.86 L127.52,512.28 L127.71,511.46 L128.07,508.75 L128.38,504.35 L128.68,497.92 L129.72,467.33 L129.95,463.37 L130.07,462.41 L130.17,462.14 L130.28,462.49 L130.40,463.65 L130.66,468.49 L131.50,493.81 L131.88,503.05 L132.28,508.94 L132.51,510.84 L132.76,512.07 L132.95,512.65 L133.19,513.05 L133.47,513.26 L133.86,513.37 L135.96,513.40 L137.19,513.34 L137.95,513.19 L139.22,512.76 L139.76,512.69 L140.32,512.77 L141.97,513.29 L143.58,513.40" stroke="#2ca02c" stroke-dasharray="1,1.65"/>
<path d="M123.46,513.39 L124.82,513.29 L125.26,513.13 L125.62,512.90 L125.96,512.52 L126.26,512.00 L126.79,510.48 L127.25,508.35 L127.71,505.37 L128.99,494.17 L129.39,491.14 L129.79,489.13 L129.99,488.62 L130.17,488.48 L130.37,488.68 L130.57,489.24 L130.99,491.48 L132.41,503.74 L133.03,508.07 L133.33,509.61 L133.65,510.85 L133.97,511.74 L134.33,512.42 L134.65,512.79 L135.03,513.04 L135.47,513.17 L135.99,513.18 L137.21,512.95 L139.72,512.10 L140.36,511.99 L140.98,511.99 L141.96,512.17 L143.92,512.86 L144.88,513.12 L146.00,513.30 L147.42,513.38" stroke="#e69f00" stroke-opacity="0.18" stroke-width="2.10" stroke-dasharray="3.7,1.6"/>
<path d="M123.46,513.39 L124.82,513.29 L125.26,513.13 L125.62,512.90 L125.96,512.52 L126.26,512.00 L126.79,510.48 L127.25,508.35 L127.71,505.37 L128.99,494.17 L129.39,491.14 L129.79,489.13 L129.99,488.62 L130.17,488.48 L130.37,488.68 L130.57,489.24 L130.99,491.48 L132.41,503.74 L133.03,508.07 L133.33,509.61 L133.65,510.85 L133.97,511.74 L134.33,512.42 L134.65,512.79 L135.03,513.04 L135.47,513.17 L135.99,513.18 L137.21,512.95 L139.72,512.10 L140.36,511.99 L140.98,511.99 L141.96,512.17 L143.92,512.86 L144.88,513.12 L146.00,513.30 L147.42,513.38" stroke="#e69f00" stroke-dasharray="3.7,1.6"/>
<path d="M97.58,513.40 L101.66,513.31 L102.91,513.17 L104.00,512.95 L104.98,512.63 L105.90,512.21 L108.51,510.66 L109.32,510.24 L110.14,509.95 L110.95,509.84 L111.82,509.94 L112.69,510.24 L113.51,510.67 L115.95,512.12 L116.77,512.50 L117.58,512.79 L118.51,513.01 L119.49,513.12 L120.52,513.12 L121.66,513.02 L123.56,512.65 L127.69,511.55 L131.12,510.91 L132.42,510.60 L134.22,509.96 L137.15,508.60 L138.29,508.14 L139.54,507.80 L140.68,507.70 L142.04,507.85 L143.46,508.32 L144.87,509.02 L147.86,510.77 L149.27,511.52 L150.79,512.18 L152.37,512.67 L154.16,513.03 L156.23,513.25 L158.78,513.36 L162.75,513.40" stroke="#4169e1" stroke-opacity="0.18" stroke-width="2.10"/>
<path d="M97.58,513.40 L101.66,513.31 L102.91,513.17 L104.00,512.95 L104.98,512.63 L105.90,512.21 L108.51,510.66 L109.32,510.24 L110.14,509.95 L110.95,509.84 L111.82,509.94 L112.69,510.24 L113.51,510.67 L115.95,512.12 L116.77,512.50 L117.58,512.79 L118.51,513.01 L119.49,513.12 L120.52,513.12 L121.66,513.02 L123.56,512.65 L127.69,511.55 L131.12,510.91 L132.42,510.60 L134.22,509.96 L137.15,508.60 L138.29,508.14 L139.54,507.80 L140.68,507.70 L142.04,507.85 L143.46,508.32 L144.87,509.02 L147.86,510.77 L149.27,511.52 L150.79,512.18 L152.37,512.67 L154.16,513.03 L156.23,513.25 L158.78,513.36 L162.75,513.40" stroke="#4169e1"/>
</g>
<rect x="53.50" y="460.00" width="115.00" height="53.40" fill="none" stroke="#000" stroke-opacity="0.12" stroke-width="1.48"/>
<rect x="53.50" y="460.00" width="115.00" height="53.40" fill="none" stroke="#000" stroke-width="0.48"/>
<line x1="51.15" y1="513.40" x2="53.50" y2="513.40" stroke="#000" stroke-width="0.48"/>
<text x="48.80" y="516.10" font-size="6.85" text-anchor="end" textLength="10.69" lengthAdjust="spacingAndGlyphs" fill="#000">0.0</text>
<line x1="51.15" y1="477.80" x2="53.50" y2="477.80" stroke="#000" stroke-width="0.48"/>
<text x="48.80" y="480.50" font-size="6.85" text-anchor="end" textLength="10.69" lengthAdjust="spacingAndGlyphs" fill="#000">0.5</text>
<line x1="53.50" y1="513.40" x2="53.50" y2="515.75" stroke="#000" stroke-width="0.48"/>
<text x="53.50" y="523.10" font-size="6.85" text-anchor="middle" textLength="8.55" lengthAdjust="spacingAndGlyphs" fill="#000">40</text>
<line x1="91.83" y1="513.40" x2="91.83" y2="515.75" stroke="#000" stroke-width="0.48"/>
<text x="91.83" y="523.10" font-size="6.85" text-anchor="middle" textLength="8.55" lengthAdjust="spacingAndGlyphs" fill="#000">60</text>
<line x1="130.17" y1="513.40" x2="130.17" y2="515.75" stroke="#000" stroke-width="0.48"/>
<text x="130.17" y="523.10" font-size="6.85" text-anchor="middle" textLength="8.55" lengthAdjust="spacingAndGlyphs" fill="#000">80</text>
<line x1="168.50" y1="513.40" x2="168.50" y2="515.75" stroke="#000" stroke-width="0.48"/>
<text x="168.50" y="523.10" font-size="6.85" text-anchor="middle" textLength="12.83" lengthAdjust="spacingAndGlyphs" fill="#000">100</text>
<text x="33.90" y="487.70" font-size="10.28" text-anchor="middle" textLength="29.18" lengthAdjust="spacingAndGlyphs" fill="#000" transform="rotate(-90 33.90 487.70)">GPT-4</text>
<g clip-path="url(#c210)" fill="none" stroke-width="1.10" stroke-linejoin="round">
<path d="M282.37,454.44 L283.05,454.33 L283.61,454.15 L284.11,453.87 L284.59,453.47 L285.43,452.40 L287.11,449.61 L287.57,449.11 L287.99,448.89 L288.23,448.88 L288.47,448.97 L288.99,449.42 L289.47,450.10 L290.94,452.57 L291.44,453.18 L291.90,453.55 L292.44,453.70 L292.92,453.53 L293.38,453.02 L293.78,452.20 L294.16,451.01 L294.52,449.41 L295.20,444.90 L295.92,437.85 L297.16,422.61 L297.64,417.46 L298.16,413.64 L298.42,412.64 L298.54,412.41 L298.66,412.33 L298.78,412.39 L298.90,412.61 L299.14,413.47 L299.64,416.97 L300.12,421.99 L301.65,440.52 L302.19,445.45 L302.73,449.04 L303.35,451.71 L303.69,452.64 L304.07,453.36 L304.47,453.84 L304.95,454.18 L305.53,454.38 L306.33,454.47" stroke="#2ca02c" stroke-opacity="0.18" stroke-width="2.10" stroke-dasharray="1,1.65"/>
<path d="M282.37,454.44 L283.05,454.33 L283.61,454.15 L284.11,453.87 L284.59,453.47 L285.43,452.40 L287.11,449.61 L287.57,449.11 L287.99,448.89 L288.23,448.88 L288.47,448.97 L288.99,449.42 L289.47,450.10 L290.94,452.57 L291.44,453.18 L291.90,453.55 L292.44,453.70 L292.92,453.53 L293.38,453.02 L293.78,452.20 L294.16,451.01 L294.52,449.41 L295.20,444.90 L295.92,437.85 L297.16,422.61 L297.64,417.46 L298.16,413.64 L298.42,412.64 L298.54,412.41 L298.66,412.33 L298.78,412.39 L298.90,412.61 L299.14,413.47 L299.64,416.97 L300.12,421.99 L301.65,440.52 L302.19,445.45 L302.73,449.04 L303.35,451.71 L303.69,452.64 L304.07,453.36 L304.47,453.84 L304.95,454.18 L305.53,454.38 L306.33,454.47" stroke="#2ca02c" stroke-dasharray="1,1.65"/>
<path d="M274.71,454.38 L275.21,454.24 L275.63,454.05 L276.02,453.76 L276.39,453.39 L277.10,452.35 L278.61,449.57 L279.05,449.07 L279.46,448.88 L279.67,448.90 L279.90,449.03 L280.36,449.54 L281.88,452.33 L282.54,453.31 L283.21,453.94 L283.97,454.31 L284.70,454.44 L285.76,454.49 L290.40,454.50 L291.72,454.43 L292.35,454.28 L292.83,454.02 L293.22,453.63 L293.59,453.02 L294.07,451.73 L294.49,449.92 L294.88,447.47 L295.25,444.40 L296.02,435.53 L297.23,417.29 L297.68,411.38 L298.18,406.84 L298.42,405.70 L298.55,405.38 L298.65,405.30 L298.76,405.36 L298.87,405.57 L299.10,406.57 L299.58,410.59 L300.05,416.66 L301.53,438.42 L302.06,444.24 L302.61,448.60 L302.90,450.23 L303.22,451.58 L303.56,452.62 L303.96,453.41 L304.38,453.92 L304.85,454.23 L305.46,454.41 L306.33,454.48" stroke="#e69f00" stroke-opacity="0.18" stroke-width="2.10" stroke-dasharray="3.7,1.6"/>
<path d="M274.71,454.38 L275.21,454.24 L275.63,454.05 L276.02,453.76 L276.39,453.39 L277.10,452.35 L278.61,449.57 L279.05,449.07 L279.46,448.88 L279.67,448.90 L279.90,449.03 L280.36,449.54 L281.88,452.33 L282.54,453.31 L283.21,453.94 L283.97,454.31 L284.70,454.44 L285.76,454.49 L290.40,454.50 L291.72,454.43 L292.35,454.28 L292.83,454.02 L293.22,453.63 L293.59,453.02 L294.07,451.73 L294.49,449.92 L294.88,447.47 L295.25,444.40 L296.02,435.53 L297.23,417.29 L297.68,411.38 L298.18,406.84 L298.42,405.70 L298.55,405.38 L298.65,405.30 L298.76,405.36 L298.87,405.57 L299.10,406.57 L299.58,410.59 L300.05,416.66 L301.53,438.42 L302.06,444.24 L302.61,448.60 L302.90,450.23 L303.22,451.58 L303.56,452.62 L303.96,453.41 L304.38,453.92 L304.85,454.23 L305.46,454.41 L306.33,454.48" stroke="#e69f00" stroke-dasharray="3.7,1.6"/>
<path d="M270.87,454.19 L271.77,453.82 L272.56,453.25 L273.26,452.45 L273.93,451.39 L274.55,450.09 L275.18,448.50 L277.22,442.24 L277.96,440.24 L278.35,439.42 L278.74,438.81 L279.14,438.44 L279.49,438.33 L279.84,438.43 L280.19,438.74 L280.58,439.32 L280.98,440.11 L281.72,442.07 L283.33,447.09 L284.11,449.28 L284.97,451.21 L285.83,452.59 L286.38,453.20 L286.97,453.67 L287.59,454.00 L288.30,454.22 L289.20,454.34 L290.10,454.32 L290.88,454.16 L291.59,453.86 L292.22,453.40 L292.76,452.80 L293.27,452.03 L293.78,451.04 L294.29,449.80 L294.84,448.22 L296.60,442.19 L297.27,440.20 L297.66,439.29 L298.01,438.69 L298.37,438.32 L298.72,438.21 L298.99,438.29 L299.31,438.57 L299.89,439.58 L300.56,441.31 L302.09,446.15 L302.83,448.21 L303.69,449.97 L304.12,450.58 L304.55,451.02 L305.14,451.41 L305.81,451.61 L306.43,451.66 L308.31,451.65 L309.61,451.85 L310.74,452.22 L313.33,453.33 L314.62,453.79 L316.15,454.16 L317.83,454.38" stroke="#4169e1" stroke-opacity="0.18" stroke-width="2.10"/>
<path d="M270.87,454.19 L271.77,453.82 L272.56,453.25 L273.26,452.45 L273.93,451.39 L274.55,450.09 L275.18,448.50 L277.22,442.24 L277.96,440.24 L278.35,439.42 L278.74,438.81 L279.14,438.44 L279.49,438.33 L279.84,438.43 L280.19,438.74 L280.58,439.32 L280.98,440.11 L281.72,442.07 L283.33,447.09 L284.11,449.28 L284.97,451.21 L285.83,452.59 L286.38,453.20 L286.97,453.67 L287.59,454.00 L288.30,454.22 L289.20,454.34 L290.10,454.32 L290.88,454.16 L291.59,453.86 L292.22,453.40 L292.76,452.80 L293.27,452.03 L293.78,451.04 L294.29,449.80 L294.84,448.22 L296.60,442.19 L297.27,440.20 L297.66,439.29 L298.01,438.69 L298.37,438.32 L298.72,438.21 L298.99,438.29 L299.31,438.57 L299.89,439.58 L300.56,441.31 L302.09,446.15 L302.83,448.21 L303.69,449.97 L304.12,450.58 L304.55,451.02 L305.14,451.41 L305.81,451.61 L306.43,451.66 L308.31,451.65 L309.61,451.85 L310.74,452.22 L313.33,453.33 L314.62,453.79 L316.15,454.16 L317.83,454.38" stroke="#4169e1"/>
</g>
<rect x="202.83" y="401.50" width="115.00" height="53.00" fill="none" stroke="#000" stroke-opacity="0.12" stroke-width="1.48"/>
<rect x="202.83" y="401.50" width="115.00" height="53.00" fill="none" stroke="#000" stroke-width="0.48"/>
<line x1="200.48" y1="454.50" x2="202.83" y2="454.50" stroke="#000" stroke-width="0.48"/>
<text x="198.13" y="457.20" font-size="6.85" text-anchor="end" textLength="10.69" lengthAdjust="spacingAndGlyphs" fill="#000">0.0</text>
<line x1="200.48" y1="426.38" x2="202.83" y2="426.38" stroke="#000" stroke-width="0.48"/>
<text x="198.13" y="429.08" font-size="6.85" text-anchor="end" textLength="10.69" lengthAdjust="spacingAndGlyphs" fill="#000">0.2</text>
<text x="260.33" y="396.80" font-size="13.71" text-anchor="middle" textLength="120.08" lengthAdjust="spacingAndGlyphs" fill="#000">very good chance</text>
<g clip-path="url(#c211)" fill="none" stroke-width="1.10" stroke-linejoin="round">
<path d="M283.33,513.33 L283.82,513.20 L284.23,512.97 L284.58,512.59 L284.88,512.08 L285.16,511.38 L285.40,510.52 L285.88,508.08 L286.30,504.88 L286.71,500.72 L288.27,480.99 L288.68,477.85 L288.87,477.04 L289.06,476.74 L289.15,476.77 L289.26,476.95 L289.45,477.67 L289.87,480.82 L291.47,500.90 L291.89,505.14 L292.30,508.17 L292.81,510.67 L293.09,511.52 L293.39,512.09 L293.70,512.38 L294.02,512.37 L294.34,512.07 L294.64,511.49 L294.95,510.48 L295.25,509.10 L295.83,504.94 L296.43,498.45 L297.84,479.76 L298.26,476.30 L298.47,475.41 L298.66,475.14 L298.86,475.41 L299.05,476.21 L299.45,479.40 L301.05,500.36 L301.48,504.79 L301.88,507.96 L302.36,510.47 L302.60,511.34 L302.88,512.06 L303.18,512.58 L303.52,512.95 L303.92,513.19 L304.41,513.32" stroke="#2ca02c" stroke-opacity="0.18" stroke-width="2.10" stroke-dasharray="1,1.65"/>
<path d="M283.33,513.33 L283.82,513.20 L284.23,512.97 L284.58,512.59 L284.88,512.08 L285.16,511.38 L285.40,510.52 L285.88,508.08 L286.30,504.88 L286.71,500.72 L288.27,480.99 L288.68,477.85 L288.87,477.04 L289.06,476.74 L289.15,476.77 L289.26,476.95 L289.45,477.67 L289.87,480.82 L291.47,500.90 L291.89,505.14 L292.30,508.17 L292.81,510.67 L293.09,511.52 L293.39,512.09 L293.70,512.38 L294.02,512.37 L294.34,512.07 L294.64,511.49 L294.95,510.48 L295.25,509.10 L295.83,504.94 L296.43,498.45 L297.84,479.76 L298.26,476.30 L298.47,475.41 L298.66,475.14 L298.86,475.41 L299.05,476.21 L299.45,479.40 L301.05,500.36 L301.48,504.79 L301.88,507.96 L302.36,510.47 L302.60,511.34 L302.88,512.06 L303.18,512.58 L303.52,512.95 L303.92,513.19 L304.41,513.32" stroke="#2ca02c" stroke-dasharray="1,1.65"/>
<path d="M283.33,513.33 L283.82,513.20 L284.23,512.97 L284.58,512.59 L284.88,512.08 L285.16,511.38 L285.40,510.52 L285.88,508.08 L286.30,504.88 L286.71,500.72 L288.27,480.99 L288.68,477.85 L288.87,477.04 L289.06,476.74 L289.15,476.77 L289.26,476.95 L289.45,477.67 L289.87,480.82 L291.47,500.90 L291.89,505.14 L292.30,508.17 L292.81,510.67 L293.09,511.52 L293.39,512.09 L293.70,512.38 L294.02,512.37 L294.34,512.07 L294.64,511.49 L294.95,510.48 L295.25,509.10 L295.83,504.94 L296.43,498.45 L297.84,479.76 L298.26,476.30 L298.47,475.41 L298.66,475.14 L298.86,475.41 L299.05,476.21 L299.45,479.40 L301.05,500.36 L301.48,504.79 L301.88,507.96 L302.36,510.47 L302.60,511.34 L302.88,512.06 L303.18,512.58 L303.52,512.95 L303.92,513.19 L304.41,513.32" stroke="#e69f00" stroke-opacity="0.18" stroke-width="2.10" stroke-dasharray="3.7,1.6"/>
<path d="M283.33,513.33 L283.82,513.20 L284.23,512.97 L284.58,512.59 L284.88,512.08 L285.16,511.38 L285.40,510.52 L285.88,508.08 L286.30,504.88 L286.71,500.72 L288.27,480.99 L288.68,477.85 L288.87,477.04 L289.06,476.74 L289.15,476.77 L289.26,476.95 L289.45,477.67 L289.87,480.82 L291.47,500.90 L291.89,505.14 L292.30,508.17 L292.81,510.67 L293.09,511.52 L293.39,512.09 L293.70,512.38 L294.02,512.37 L294.34,512.07 L294.64,511.49 L294.95,510.48 L295.25,509.10 L295.83,504.94 L296.43,498.45 L297.84,479.76 L298.26,476.30 L298.47,475.41 L298.66,475.14 L298.86,475.41 L299.05,476.21 L299.45,479.40 L301.05,500.36 L301.48,504.79 L301.88,507.96 L302.36,510.47 L302.60,511.34 L302.88,512.06 L303.18,512.58 L303.52,512.95 L303.92,513.19 L304.41,513.32" stroke="#e69f00" stroke-dasharray="3.7,1.6"/>
<path d="M284.29,513.20 L284.64,512.95 L284.93,512.56 L285.18,512.00 L285.42,511.21 L285.84,508.93 L286.22,505.46 L286.56,501.06 L286.89,495.34 L288.20,468.00 L288.56,463.54 L288.73,462.40 L288.89,462.07 L289.05,462.43 L289.23,463.60 L289.60,468.39 L290.79,493.63 L291.32,502.56 L291.85,508.26 L292.13,510.17 L292.44,511.53 L292.78,512.43 L293.19,512.99 L293.43,513.15 L293.72,513.23 L294.02,513.23 L294.30,513.14 L294.73,512.79 L295.09,512.18 L295.40,511.26 L295.69,509.98 L296.12,507.00 L296.55,502.55 L298.03,481.89 L298.36,479.18 L298.52,478.53 L298.68,478.33 L298.84,478.60 L299.00,479.33 L299.35,482.38 L300.67,501.26 L301.02,505.25 L301.36,508.21 L301.76,510.57 L302.21,512.11 L302.46,512.61 L302.74,512.95 L303.06,513.18 L303.46,513.32" stroke="#4169e1" stroke-opacity="0.18" stroke-width="2.10"/>
<path d="M284.29,513.20 L284.64,512.95 L284.93,512.56 L285.18,512.00 L285.42,511.21 L285.84,508.93 L286.22,505.46 L286.56,501.06 L286.89,495.34 L288.20,468.00 L288.56,463.54 L288.73,462.40 L288.89,462.07 L289.05,462.43 L289.23,463.60 L289.60,468.39 L290.79,493.63 L291.32,502.56 L291.85,508.26 L292.13,510.17 L292.44,511.53 L292.78,512.43 L293.19,512.99 L293.43,513.15 L293.72,513.23 L294.02,513.23 L294.30,513.14 L294.73,512.79 L295.09,512.18 L295.40,511.26 L295.69,509.98 L296.12,507.00 L296.55,502.55 L298.03,481.89 L298.36,479.18 L298.52,478.53 L298.68,478.33 L298.84,478.60 L299.00,479.33 L299.35,482.38 L300.67,501.26 L301.02,505.25 L301.36,508.21 L301.76,510.57 L302.21,512.11 L302.46,512.61 L302.74,512.95 L303.06,513.18 L303.46,513.32" stroke="#4169e1"/>
</g>
<rect x="202.83" y="460.00" width="115.00" height="53.40" fill="none" stroke="#000" stroke-opacity="0.12" stroke-width="1.48"/>
<rect x="202.83" y="460.00" width="115.00" height="53.40" fill="none" stroke="#000" stroke-width="0.48"/>
<line x1="200.48" y1="513.40" x2="202.83" y2="513.40" stroke="#000" stroke-width="0.48"/>
<text x="198.13" y="516.10" font-size="6.85" text-anchor="end" textLength="10.69" lengthAdjust="spacingAndGlyphs" fill="#000">0.0</text>
<line x1="200.48" y1="481.52" x2="202.83" y2="481.52" stroke="#000" stroke-width="0.48"/>
<text x="198.13" y="484.22" font-size="6.85" text-anchor="end" textLength="10.69" lengthAdjust="spacingAndGlyphs" fill="#000">0.2</text>
<line x1="202.83" y1="513.40" x2="202.83" y2="515.75" stroke="#000" stroke-width="0.48"/>
<text x="202.83" y="523.10" font-size="6.85" text-anchor="middle" textLength="8.55" lengthAdjust="spacingAndGlyphs" fill="#000">40</text>
<line x1="241.16" y1="513.40" x2="241.16" y2="515.75" stroke="#000" stroke-width="0.48"/>
<text x="241.16" y="523.10" font-size="6.85" text-anchor="middle" textLength="8.55" lengthAdjust="spacingAndGlyphs" fill="#000">60</text>
<line x1="279.50" y1="513.40" x2="279.50" y2="515.75" stroke="#000" stroke-width="0.48"/>
<text x="279.50" y="523.10" font-size="6.85" text-anchor="middle" textLength="8.55" lengthAdjust="spacingAndGlyphs" fill="#000">80</text>
<line x1="317.83" y1="513.40" x2="317.83" y2="515.75" stroke="#000" stroke-width="0.48"/>
<text x="317.83" y="523.10" font-size="6.85" text-anchor="middle" textLength="12.83" lengthAdjust="spacingAndGlyphs" fill="#000">100</text>
<g clip-path="url(#c220)" fill="none" stroke-width="1.10" stroke-linejoin="round">
<path d="M423.09,454.43 L423.76,454.31 L424.33,454.09 L424.80,453.80 L425.27,453.36 L426.11,452.15 L427.85,448.82 L428.32,448.25 L428.56,448.09 L428.79,448.03 L429.03,448.06 L429.30,448.21 L429.80,448.79 L431.48,452.00 L432.18,453.09 L432.86,453.78 L433.63,454.22 L434.40,454.40 L435.47,454.48 L438.66,454.49 L439.97,454.40 L440.61,454.23 L441.11,453.94 L441.55,453.48 L441.92,452.86 L442.42,451.52 L442.86,449.73 L443.30,447.19 L443.70,444.06 L444.50,435.41 L445.85,416.80 L446.35,410.67 L446.65,407.82 L446.92,405.98 L447.19,404.87 L447.32,404.61 L447.42,404.55 L447.53,404.61 L447.66,404.85 L447.93,405.94 L448.20,407.76 L448.50,410.59 L449.00,416.70 L450.31,434.89 L451.05,443.06 L451.72,448.16 L452.06,449.91 L452.43,451.32 L452.80,452.26 L453.20,452.85 L453.40,453.00 L453.64,453.07 L454.07,452.95 L454.47,452.58 L454.91,451.96 L456.25,449.41 L456.76,448.60 L457.26,448.12 L457.53,448.03 L457.76,448.05 L458.17,448.32 L458.60,448.87 L460.28,452.09 L461.12,453.32 L461.59,453.77 L462.09,454.09 L462.67,454.31 L463.34,454.43" stroke="#e69f00" stroke-opacity="0.18" stroke-width="2.10" stroke-dasharray="3.7,1.6"/>
<path d="M423.09,454.43 L423.76,454.31 L424.33,454.09 L424.80,453.80 L425.27,453.36 L426.11,452.15 L427.85,448.82 L428.32,448.25 L428.56,448.09 L428.79,448.03 L429.03,448.06 L429.30,448.21 L429.80,448.79 L431.48,452.00 L432.18,453.09 L432.86,453.78 L433.63,454.22 L434.40,454.40 L435.47,454.48 L438.66,454.49 L439.97,454.40 L440.61,454.23 L441.11,453.94 L441.55,453.48 L441.92,452.86 L442.42,451.52 L442.86,449.73 L443.30,447.19 L443.70,444.06 L444.50,435.41 L445.85,416.80 L446.35,410.67 L446.65,407.82 L446.92,405.98 L447.19,404.87 L447.32,404.61 L447.42,404.55 L447.53,404.61 L447.66,404.85 L447.93,405.94 L448.20,407.76 L448.50,410.59 L449.00,416.70 L450.31,434.89 L451.05,443.06 L451.72,448.16 L452.06,449.91 L452.43,451.32 L452.80,452.26 L453.20,452.85 L453.40,453.00 L453.64,453.07 L454.07,452.95 L454.47,452.58 L454.91,451.96 L456.25,449.41 L456.76,448.60 L457.26,448.12 L457.53,448.03 L457.76,448.05 L458.17,448.32 L458.60,448.87 L460.28,452.09 L461.12,453.32 L461.59,453.77 L462.09,454.09 L462.67,454.31 L463.34,454.43" stroke="#e69f00" stroke-dasharray="3.7,1.6"/>
<path d="M419.25,454.44 L420.53,454.28 L421.53,453.96 L422.37,453.46 L423.17,452.70 L423.85,451.79 L424.57,450.55 L426.65,446.04 L427.37,444.68 L427.77,444.10 L428.13,443.71 L428.48,443.48 L428.80,443.40 L429.16,443.47 L429.52,443.69 L429.88,444.07 L430.28,444.64 L431.00,445.99 L433.20,450.72 L434.00,452.04 L434.76,452.97 L435.24,453.39 L435.72,453.71 L436.24,453.94 L436.76,454.09 L437.36,454.15 L437.96,454.13 L438.56,454.01 L439.12,453.82 L439.87,453.39 L440.55,452.81 L441.23,452.03 L441.87,451.08 L443.03,448.84 L445.59,442.95 L446.31,441.68 L446.95,440.92 L447.31,440.66 L447.67,440.53 L448.03,440.52 L448.43,440.66 L449.15,441.19 L450.55,442.70 L451.10,443.20 L451.70,443.51 L452.02,443.55 L452.30,443.52 L452.90,443.19 L453.50,442.54 L454.06,441.73 L455.34,439.59 L455.94,438.76 L456.50,438.26 L457.02,438.10 L457.46,438.22 L457.90,438.59 L458.34,439.19 L458.82,440.10 L459.66,442.15 L461.93,448.55 L462.69,450.28 L463.41,451.60 L464.21,452.69 L465.05,453.46 L466.01,453.99 L467.17,454.31" stroke="#4169e1" stroke-opacity="0.18" stroke-width="2.10"/>
<path d="M419.25,454.44 L420.53,454.28 L421.53,453.96 L422.37,453.46 L423.17,452.70 L423.85,451.79 L424.57,450.55 L426.65,446.04 L427.37,444.68 L427.77,444.10 L428.13,443.71 L428.48,443.48 L428.80,443.40 L429.16,443.47 L429.52,443.69 L429.88,444.07 L430.28,444.64 L431.00,445.99 L433.20,450.72 L434.00,452.04 L434.76,452.97 L435.24,453.39 L435.72,453.71 L436.24,453.94 L436.76,454.09 L437.36,454.15 L437.96,454.13 L438.56,454.01 L439.12,453.82 L439.87,453.39 L440.55,452.81 L441.23,452.03 L441.87,451.08 L443.03,448.84 L445.59,442.95 L446.31,441.68 L446.95,440.92 L447.31,440.66 L447.67,440.53 L448.03,440.52 L448.43,440.66 L449.15,441.19 L450.55,442.70 L451.10,443.20 L451.70,443.51 L452.02,443.55 L452.30,443.52 L452.90,443.19 L453.50,442.54 L454.06,441.73 L455.34,439.59 L455.94,438.76 L456.50,438.26 L457.02,438.10 L457.46,438.22 L457.90,438.59 L458.34,439.19 L458.82,440.10 L459.66,442.15 L461.93,448.55 L462.69,450.28 L463.41,451.60 L464.21,452.69 L465.05,453.46 L466.01,453.99 L467.17,454.31" stroke="#4169e1"/>
</g>
<rect x="352.17" y="401.50" width="115.00" height="53.00" fill="none" stroke="#000" stroke-opacity="0.12" stroke-width="1.48"/>
<rect x="352.17" y="401.50" width="115.00" height="53.00" fill="none" stroke="#000" stroke-width="0.48"/>
<line x1="349.82" y1="454.50" x2="352.17" y2="454.50" stroke="#000" stroke-width="0.48"/>
<text x="347.47" y="457.20" font-size="6.85" text-anchor="end" textLength="10.69" lengthAdjust="spacingAndGlyphs" fill="#000">0.0</text>
<line x1="349.82" y1="436.00" x2="352.17" y2="436.00" stroke="#000" stroke-width="0.48"/>
<text x="347.47" y="438.70" font-size="6.85" text-anchor="end" textLength="10.69" lengthAdjust="spacingAndGlyphs" fill="#000">0.1</text>
<line x1="349.82" y1="417.50" x2="352.17" y2="417.50" stroke="#000" stroke-width="0.48"/>
<text x="347.47" y="420.20" font-size="6.85" text-anchor="end" textLength="10.69" lengthAdjust="spacingAndGlyphs" fill="#000">0.2</text>
<text x="409.67" y="396.80" font-size="13.71" text-anchor="middle" textLength="79.98" lengthAdjust="spacingAndGlyphs" fill="#000">highly likely</text>
<g clip-path="url(#c221)" fill="none" stroke-width="1.10" stroke-linejoin="round">
<path d="M447.60,513.40 L447.60,462.00" stroke="#e69f00" stroke-opacity="0.18" stroke-width="2.00" stroke-dasharray="4.3,1.0"/>
<path d="M447.60,513.40 L447.60,462.00" stroke="#e69f00" stroke-dasharray="4.3,1.0" stroke-width="1.00"/>
<path d="M447.60,513.40 L447.60,486.60 L447.62,513.40" stroke="#4169e1" stroke-opacity="0.18" stroke-width="2.00"/>
<path d="M447.60,513.40 L447.60,486.60 L447.62,513.40" stroke="#4169e1" stroke-width="1.00"/>
</g>
<rect x="352.17" y="460.00" width="115.00" height="53.40" fill="none" stroke="#000" stroke-opacity="0.12" stroke-width="1.48"/>
<rect x="352.17" y="460.00" width="115.00" height="53.40" fill="none" stroke="#000" stroke-width="0.48"/>
<line x1="349.82" y1="513.40" x2="352.17" y2="513.40" stroke="#000" stroke-width="0.48"/>
<text x="347.47" y="516.10" font-size="6.85" text-anchor="end" textLength="4.28" lengthAdjust="spacingAndGlyphs" fill="#000">0</text>
<line x1="349.82" y1="482.39" x2="352.17" y2="482.39" stroke="#000" stroke-width="0.48"/>
<text x="347.47" y="485.09" font-size="6.85" text-anchor="end" textLength="12.83" lengthAdjust="spacingAndGlyphs" fill="#000">500</text>
<line x1="352.17" y1="513.40" x2="352.17" y2="515.75" stroke="#000" stroke-width="0.48"/>
<text x="352.17" y="523.10" font-size="6.85" text-anchor="middle" textLength="8.55" lengthAdjust="spacingAndGlyphs" fill="#000">40</text>
<line x1="390.50" y1="513.40" x2="390.50" y2="515.75" stroke="#000" stroke-width="0.48"/>
<text x="390.50" y="523.10" font-size="6.85" text-anchor="middle" textLength="8.55" lengthAdjust="spacingAndGlyphs" fill="#000">60</text>
<line x1="428.84" y1="513.40" x2="428.84" y2="515.75" stroke="#000" stroke-width="0.48"/>
<text x="428.84" y="523.10" font-size="6.85" text-anchor="middle" textLength="8.55" lengthAdjust="spacingAndGlyphs" fill="#000">80</text>
<line x1="467.17" y1="513.40" x2="467.17" y2="515.75" stroke="#000" stroke-width="0.48"/>
<text x="467.17" y="523.10" font-size="6.85" text-anchor="middle" textLength="12.83" lengthAdjust="spacingAndGlyphs" fill="#000">100</text>
<g clip-path="url(#c230)" fill="none" stroke-width="1.10" stroke-linejoin="round">
<path d="M593.50,454.48 L594.25,454.37 L594.82,454.13 L595.33,453.74 L596.36,452.70 L596.65,452.52 L596.91,452.46 L597.20,452.50 L597.51,452.69 L598.54,453.71 L598.96,454.06 L599.36,454.27 L599.79,454.40 L600.81,454.49 L602.74,454.46 L603.20,454.29 L603.53,453.85 L603.76,453.21 L603.96,452.28 L604.32,449.39 L604.66,444.84 L605.43,432.18 L605.64,429.96 L605.76,429.33 L605.86,429.15 L605.95,429.27 L606.05,429.71 L606.25,431.54 L607.23,447.22 L607.51,450.44 L607.82,452.54 L608.15,453.74 L608.34,454.09 L608.58,454.32 L609.14,454.48 L610.75,454.50" stroke="#e69f00" stroke-opacity="0.18" stroke-width="2.10" stroke-dasharray="3.7,1.6"/>
<path d="M593.50,454.48 L594.25,454.37 L594.82,454.13 L595.33,453.74 L596.36,452.70 L596.65,452.52 L596.91,452.46 L597.20,452.50 L597.51,452.69 L598.54,453.71 L598.96,454.06 L599.36,454.27 L599.79,454.40 L600.81,454.49 L602.74,454.46 L603.20,454.29 L603.53,453.85 L603.76,453.21 L603.96,452.28 L604.32,449.39 L604.66,444.84 L605.43,432.18 L605.64,429.96 L605.76,429.33 L605.86,429.15 L605.95,429.27 L606.05,429.71 L606.25,431.54 L607.23,447.22 L607.51,450.44 L607.82,452.54 L608.15,453.74 L608.34,454.09 L608.58,454.32 L609.14,454.48 L610.75,454.50" stroke="#e69f00" stroke-dasharray="3.7,1.6"/>
<path d="M603.08,454.50 L603.61,454.47 L603.90,454.38 L604.13,454.16 L604.31,453.79 L604.62,452.28 L604.87,449.48 L605.10,445.09 L605.32,438.96 L606.10,409.30 L606.27,405.55 L606.43,404.20 L606.52,404.55 L606.61,405.64 L606.80,410.20 L607.46,435.61 L607.75,444.61 L608.07,450.43 L608.25,452.22 L608.45,453.41 L608.74,454.15 L608.91,454.35 L609.15,454.45 L611.33,454.49 L612.19,454.37 L612.55,454.17 L612.87,453.81 L613.20,453.24 L613.96,451.62 L614.20,451.31 L614.41,451.23 L614.61,451.33 L614.80,451.57 L615.71,453.47 L615.97,453.89 L616.24,454.17 L616.55,454.36 L616.92,454.46 L618.42,454.50" stroke="#4169e1" stroke-opacity="0.18" stroke-width="2.10"/>
<path d="M603.08,454.50 L603.61,454.47 L603.90,454.38 L604.13,454.16 L604.31,453.79 L604.62,452.28 L604.87,449.48 L605.10,445.09 L605.32,438.96 L606.10,409.30 L606.27,405.55 L606.43,404.20 L606.52,404.55 L606.61,405.64 L606.80,410.20 L607.46,435.61 L607.75,444.61 L608.07,450.43 L608.25,452.22 L608.45,453.41 L608.74,454.15 L608.91,454.35 L609.15,454.45 L611.33,454.49 L612.19,454.37 L612.55,454.17 L612.87,453.81 L613.20,453.24 L613.96,451.62 L614.20,451.31 L614.41,451.23 L614.61,451.33 L614.80,451.57 L615.71,453.47 L615.97,453.89 L616.24,454.17 L616.55,454.36 L616.92,454.46 L618.42,454.50" stroke="#4169e1"/>
</g>
<rect x="501.50" y="401.50" width="115.00" height="53.00" fill="none" stroke="#000" stroke-opacity="0.12" stroke-width="1.48"/>
<rect x="501.50" y="401.50" width="115.00" height="53.00" fill="none" stroke="#000" stroke-width="0.48"/>
<line x1="499.15" y1="454.50" x2="501.50" y2="454.50" stroke="#000" stroke-width="0.48"/>
<text x="496.80" y="457.20" font-size="6.85" text-anchor="end" textLength="10.69" lengthAdjust="spacingAndGlyphs" fill="#000">0.0</text>
<line x1="499.15" y1="434.05" x2="501.50" y2="434.05" stroke="#000" stroke-width="0.48"/>
<text x="496.80" y="436.75" font-size="6.85" text-anchor="end" textLength="10.69" lengthAdjust="spacingAndGlyphs" fill="#000">0.5</text>
<line x1="499.15" y1="413.60" x2="501.50" y2="413.60" stroke="#000" stroke-width="0.48"/>
<text x="496.80" y="416.30" font-size="6.85" text-anchor="end" textLength="10.69" lengthAdjust="spacingAndGlyphs" fill="#000">1.0</text>
<text x="559.00" y="396.80" font-size="13.71" text-anchor="middle" textLength="96.77" lengthAdjust="spacingAndGlyphs" fill="#000">almost certain</text>
<g clip-path="url(#c231)" fill="none" stroke-width="1.10" stroke-linejoin="round">
<path d="M591.58,513.39 L592.61,513.31 L593.25,513.09 L593.77,512.61 L594.22,511.82 L594.62,510.74 L595.01,509.29 L596.45,502.37 L596.80,501.36 L596.97,501.10 L597.14,501.02 L597.31,501.10 L597.47,501.35 L597.83,502.35 L599.30,509.41 L599.71,510.90 L600.13,511.97 L600.66,512.78 L600.97,513.03 L601.30,513.19 L601.71,513.27 L602.14,513.25 L602.53,513.12 L602.86,512.90 L603.18,512.55 L603.47,512.07 L604.00,510.66 L604.54,508.46 L605.80,502.07 L606.19,500.87 L606.37,500.58 L606.54,500.50 L606.71,500.59 L606.87,500.86 L607.24,501.98 L608.64,509.00 L609.02,510.52 L609.39,511.61 L609.81,512.44 L610.30,512.98 L610.87,513.26 L611.71,513.38" stroke="#2ca02c" stroke-opacity="0.18" stroke-width="2.10" stroke-dasharray="1,1.65"/>
<path d="M591.58,513.39 L592.61,513.31 L593.25,513.09 L593.77,512.61 L594.22,511.82 L594.62,510.74 L595.01,509.29 L596.45,502.37 L596.80,501.36 L596.97,501.10 L597.14,501.02 L597.31,501.10 L597.47,501.35 L597.83,502.35 L599.30,509.41 L599.71,510.90 L600.13,511.97 L600.66,512.78 L600.97,513.03 L601.30,513.19 L601.71,513.27 L602.14,513.25 L602.53,513.12 L602.86,512.90 L603.18,512.55 L603.47,512.07 L604.00,510.66 L604.54,508.46 L605.80,502.07 L606.19,500.87 L606.37,500.58 L606.54,500.50 L606.71,500.59 L606.87,500.86 L607.24,501.98 L608.64,509.00 L609.02,510.52 L609.39,511.61 L609.81,512.44 L610.30,512.98 L610.87,513.26 L611.71,513.38" stroke="#2ca02c" stroke-dasharray="1,1.65"/>
<path d="M590.62,513.40 L591.89,513.34 L592.67,513.16 L593.27,512.79 L593.81,512.13 L594.26,511.23 L594.71,510.02 L596.36,504.20 L596.77,503.35 L596.95,503.15 L597.13,503.08 L597.32,503.14 L597.52,503.35 L597.94,504.25 L599.53,509.88 L599.95,511.05 L600.37,511.94 L600.89,512.66 L601.47,513.04 L601.78,513.10 L602.10,513.08 L602.39,512.97 L602.67,512.77 L602.99,512.38 L603.29,511.85 L603.85,510.27 L604.43,507.76 L605.75,500.70 L606.16,499.38 L606.34,499.06 L606.53,498.95 L606.69,499.03 L606.88,499.31 L607.26,500.50 L608.82,508.67 L609.25,510.38 L609.69,511.66 L610.18,512.55 L610.76,513.07 L611.47,513.32 L612.67,513.40" stroke="#e69f00" stroke-opacity="0.18" stroke-width="2.10" stroke-dasharray="3.7,1.6"/>
<path d="M590.62,513.40 L591.89,513.34 L592.67,513.16 L593.27,512.79 L593.81,512.13 L594.26,511.23 L594.71,510.02 L596.36,504.20 L596.77,503.35 L596.95,503.15 L597.13,503.08 L597.32,503.14 L597.52,503.35 L597.94,504.25 L599.53,509.88 L599.95,511.05 L600.37,511.94 L600.89,512.66 L601.47,513.04 L601.78,513.10 L602.10,513.08 L602.39,512.97 L602.67,512.77 L602.99,512.38 L603.29,511.85 L603.85,510.27 L604.43,507.76 L605.75,500.70 L606.16,499.38 L606.34,499.06 L606.53,498.95 L606.69,499.03 L606.88,499.31 L607.26,500.50 L608.82,508.67 L609.25,510.38 L609.69,511.66 L610.18,512.55 L610.76,513.07 L611.47,513.32 L612.67,513.40" stroke="#e69f00" stroke-dasharray="3.7,1.6"/>
<path d="M593.50,513.40 L594.69,513.32 L595.05,513.19 L595.37,512.96 L595.90,512.21 L596.87,510.19 L597.10,509.90 L597.31,509.79 L597.56,509.89 L597.81,510.22 L598.66,512.02 L599.02,512.64 L599.38,513.03 L599.78,513.26 L600.71,513.39 L603.97,513.37 L604.20,513.30 L604.38,513.14 L604.64,512.51 L604.82,511.42 L605.00,509.57 L605.28,503.65 L605.54,494.47 L606.12,468.01 L606.28,463.47 L606.43,461.81 L606.51,462.11 L606.59,463.33 L606.76,468.27 L607.52,501.41 L607.71,506.68 L607.93,510.21 L608.19,512.29 L608.35,512.86 L608.53,513.19 L608.72,513.32 L608.99,513.39 L610.75,513.40" stroke="#4169e1" stroke-opacity="0.18" stroke-width="2.10"/>
<path d="M593.50,513.40 L594.69,513.32 L595.05,513.19 L595.37,512.96 L595.90,512.21 L596.87,510.19 L597.10,509.90 L597.31,509.79 L597.56,509.89 L597.81,510.22 L598.66,512.02 L599.02,512.64 L599.38,513.03 L599.78,513.26 L600.71,513.39 L603.97,513.37 L604.20,513.30 L604.38,513.14 L604.64,512.51 L604.82,511.42 L605.00,509.57 L605.28,503.65 L605.54,494.47 L606.12,468.01 L606.28,463.47 L606.43,461.81 L606.51,462.11 L606.59,463.33 L606.76,468.27 L607.52,501.41 L607.71,506.68 L607.93,510.21 L608.19,512.29 L608.35,512.86 L608.53,513.19 L608.72,513.32 L608.99,513.39 L610.75,513.40" stroke="#4169e1"/>
</g>
<rect x="501.50" y="460.00" width="115.00" height="53.40" fill="none" stroke="#000" stroke-opacity="0.12" stroke-width="1.48"/>
<rect x="501.50" y="460.00" width="115.00" height="53.40" fill="none" stroke="#000" stroke-width="0.48"/>
<line x1="499.15" y1="513.40" x2="501.50" y2="513.40" stroke="#000" stroke-width="0.48"/>
<text x="496.80" y="516.10" font-size="6.85" text-anchor="end" textLength="10.69" lengthAdjust="spacingAndGlyphs" fill="#000">0.0</text>
<line x1="499.15" y1="487.60" x2="501.50" y2="487.60" stroke="#000" stroke-width="0.48"/>
<text x="496.80" y="490.30" font-size="6.85" text-anchor="end" textLength="10.69" lengthAdjust="spacingAndGlyphs" fill="#000">0.5</text>
<line x1="499.15" y1="461.81" x2="501.50" y2="461.81" stroke="#000" stroke-width="0.48"/>
<text x="496.80" y="464.51" font-size="6.85" text-anchor="end" textLength="10.69" lengthAdjust="spacingAndGlyphs" fill="#000">1.0</text>
<line x1="501.50" y1="513.40" x2="501.50" y2="515.75" stroke="#000" stroke-width="0.48"/>
<text x="501.50" y="523.10" font-size="6.85" text-anchor="middle" textLength="8.55" lengthAdjust="spacingAndGlyphs" fill="#000">40</text>
<line x1="539.83" y1="513.40" x2="539.83" y2="515.75" stroke="#000" stroke-width="0.48"/>
<text x="539.83" y="523.10" font-size="6.85" text-anchor="middle" textLength="8.55" lengthAdjust="spacingAndGlyphs" fill="#000">60</text>
<line x1="578.17" y1="513.40" x2="578.17" y2="515.75" stroke="#000" stroke-width="0.48"/>
<text x="578.17" y="523.10" font-size="6.85" text-anchor="middle" textLength="8.55" lengthAdjust="spacingAndGlyphs" fill="#000">80</text>
<line x1="616.50" y1="513.40" x2="616.50" y2="515.75" stroke="#000" stroke-width="0.48"/>
<text x="616.50" y="523.10" font-size="6.85" text-anchor="middle" textLength="12.83" lengthAdjust="spacingAndGlyphs" fill="#000">100</text>
<text x="335.00" y="381.00" font-size="13.71" text-anchor="middle" textLength="153.58" lengthAdjust="spacingAndGlyphs" fill="#000" font-style="italic">High Probability Words</text>
<text x="11.20" y="287.40" font-size="13.71" text-anchor="middle" textLength="51.10" lengthAdjust="spacingAndGlyphs" fill="#000" transform="rotate(-90 11.20 287.40)">Density</text>
<text x="325.60" y="545.90" font-size="13.71" text-anchor="middle" textLength="88.08" lengthAdjust="spacingAndGlyphs" fill="#000">Probability %</text>
<rect x="605.35" y="2.4" width="77.05" height="50.4" rx="2" ry="2" fill="#fff" fill-opacity="0.8" stroke="#cccccc" stroke-width="0.6"/>
<line x1="609.3" y1="11.00" x2="630.8" y2="11.00" stroke="#2ca02c" stroke-width="1.10" stroke-dasharray="1,1.65"/>
<text x="639.90" y="15.00" font-size="10.96" text-anchor="start" textLength="25.46" lengthAdjust="spacingAndGlyphs" fill="#000">Male</text>
<line x1="609.3" y1="27.20" x2="630.8" y2="27.20" stroke="#e69f00" stroke-width="1.10" stroke-dasharray="3.7,1.6"/>
<text x="639.90" y="31.00" font-size="10.96" text-anchor="start" textLength="38.87" lengthAdjust="spacingAndGlyphs" fill="#000">Female</text>
<line x1="609.3" y1="43.30" x2="630.8" y2="43.30" stroke="#4169e1" stroke-width="1.10"/>
<text x="639.90" y="47.10" font-size="10.96" text-anchor="start" textLength="23.06" lengthAdjust="spacingAndGlyphs" fill="#000">CNC</text>
</svg>
</body></html>
